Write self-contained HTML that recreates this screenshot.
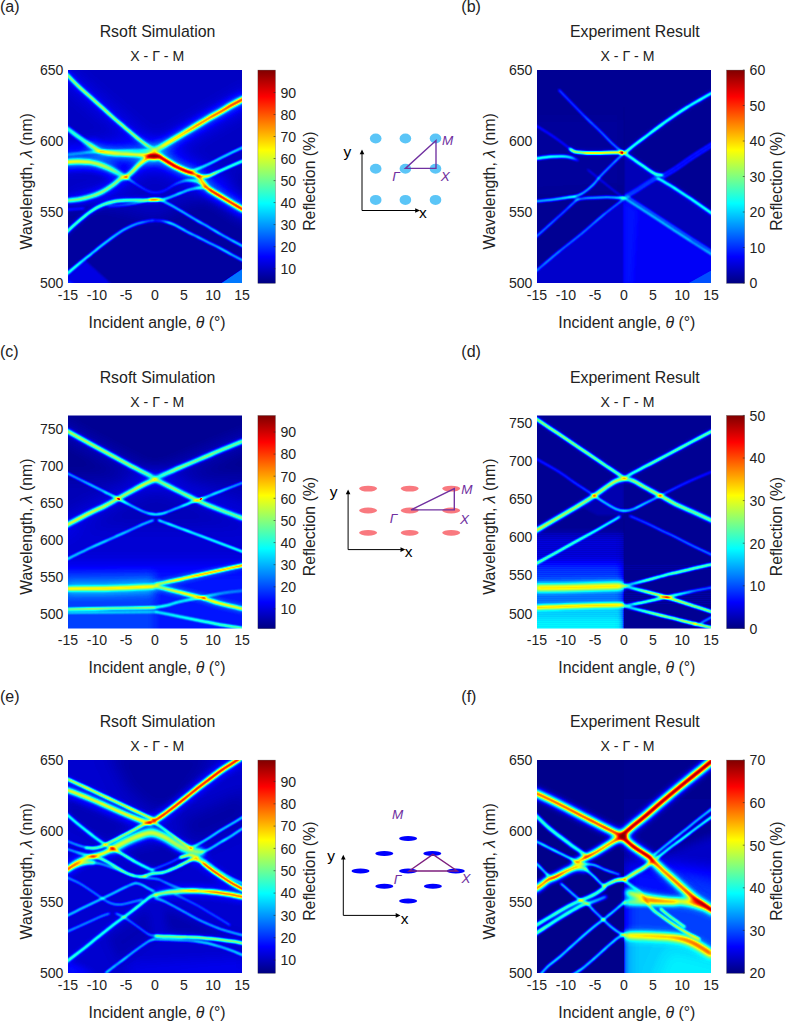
<!DOCTYPE html>
<html lang="en"><head><meta charset="utf-8"><title>Angle-resolved reflection spectra</title>
<style>html,body{margin:0;padding:0;background:#fff}svg{display:block}text{font-family:"Liberation Sans", sans-serif;fill:#222}.it{font-style:italic}.pu{fill:#7030a0;font-style:italic}</style>
</head><body>
<svg width="787" height="1022" viewBox="0 0 787 1022">
<defs>
<filter id="jet" x="0" y="0" width="100%" height="100%" filterUnits="objectBoundingBox" color-interpolation-filters="sRGB"><feComponentTransfer><feFuncR type="table" tableValues="0.000 0.000 0.000 0.000 0.000 0.000 0.000 0.000 0.000 0.000 0.000 0.000 0.000 0.125 0.250 0.375 0.500 0.625 0.750 0.875 1.000 1.000 1.000 1.000 1.000 1.000 1.000 1.000 1.000 0.875 0.750 0.625 0.500"/><feFuncG type="table" tableValues="0.000 0.000 0.000 0.000 0.000 0.125 0.250 0.375 0.500 0.625 0.750 0.875 1.000 1.000 1.000 1.000 1.000 1.000 1.000 1.000 1.000 0.875 0.750 0.625 0.500 0.375 0.250 0.125 0.000 0.000 0.000 0.000 0.000"/><feFuncB type="table" tableValues="0.500 0.625 0.750 0.875 1.000 1.000 1.000 1.000 1.000 1.000 1.000 1.000 1.000 0.875 0.750 0.625 0.500 0.375 0.250 0.125 0.000 0.000 0.000 0.000 0.000 0.000 0.000 0.000 0.000 0.000 0.000 0.000 0.000"/></feComponentTransfer></filter>
<filter id="b05" x="-20%" y="-20%" width="140%" height="140%" color-interpolation-filters="sRGB"><feGaussianBlur stdDeviation="0.5"/></filter>
<filter id="b07" x="-20%" y="-20%" width="140%" height="140%" color-interpolation-filters="sRGB"><feGaussianBlur stdDeviation="0.8"/></filter>
<filter id="b1" x="-20%" y="-20%" width="140%" height="140%" color-interpolation-filters="sRGB"><feGaussianBlur stdDeviation="1.15"/></filter>
<filter id="b15" x="-20%" y="-20%" width="140%" height="140%" color-interpolation-filters="sRGB"><feGaussianBlur stdDeviation="1.6"/></filter>
<filter id="b25" x="-20%" y="-20%" width="140%" height="140%" color-interpolation-filters="sRGB"><feGaussianBlur stdDeviation="2.5"/></filter>
<filter id="b4" x="-20%" y="-20%" width="140%" height="140%" color-interpolation-filters="sRGB"><feGaussianBlur stdDeviation="4.0"/></filter>
<filter id="b8" x="-20%" y="-20%" width="140%" height="140%" color-interpolation-filters="sRGB"><feGaussianBlur stdDeviation="8.0"/></filter>
<linearGradient id="cb" x1="0" y1="1" x2="0" y2="0"><stop offset="0.0000" stop-color="rgb(0,0,128)"/><stop offset="0.0312" stop-color="rgb(0,0,159)"/><stop offset="0.0625" stop-color="rgb(0,0,191)"/><stop offset="0.0938" stop-color="rgb(0,0,223)"/><stop offset="0.1250" stop-color="rgb(0,0,255)"/><stop offset="0.1562" stop-color="rgb(0,32,255)"/><stop offset="0.1875" stop-color="rgb(0,64,255)"/><stop offset="0.2188" stop-color="rgb(0,96,255)"/><stop offset="0.2500" stop-color="rgb(0,128,255)"/><stop offset="0.2812" stop-color="rgb(0,159,255)"/><stop offset="0.3125" stop-color="rgb(0,191,255)"/><stop offset="0.3438" stop-color="rgb(0,223,255)"/><stop offset="0.3750" stop-color="rgb(0,255,255)"/><stop offset="0.4062" stop-color="rgb(32,255,223)"/><stop offset="0.4375" stop-color="rgb(64,255,191)"/><stop offset="0.4688" stop-color="rgb(96,255,159)"/><stop offset="0.5000" stop-color="rgb(128,255,128)"/><stop offset="0.5312" stop-color="rgb(159,255,96)"/><stop offset="0.5625" stop-color="rgb(191,255,64)"/><stop offset="0.5938" stop-color="rgb(223,255,32)"/><stop offset="0.6250" stop-color="rgb(255,255,0)"/><stop offset="0.6562" stop-color="rgb(255,223,0)"/><stop offset="0.6875" stop-color="rgb(255,191,0)"/><stop offset="0.7188" stop-color="rgb(255,159,0)"/><stop offset="0.7500" stop-color="rgb(255,128,0)"/><stop offset="0.7812" stop-color="rgb(255,96,0)"/><stop offset="0.8125" stop-color="rgb(255,64,0)"/><stop offset="0.8438" stop-color="rgb(255,32,0)"/><stop offset="0.8750" stop-color="rgb(255,0,0)"/><stop offset="0.9062" stop-color="rgb(223,0,0)"/><stop offset="0.9375" stop-color="rgb(191,0,0)"/><stop offset="0.9688" stop-color="rgb(159,0,0)"/><stop offset="1.0000" stop-color="rgb(128,0,0)"/></linearGradient>
<marker id="ah" viewBox="0 0 10 10" refX="8" refY="5" markerWidth="5" markerHeight="5" orient="auto"><path d="M0,0.8 L10,5 L0,9.2z" fill="#000"/></marker>
</defs>
<rect width="787" height="1022" fill="#fff"/>
<svg x="68" y="70" width="174" height="213" viewBox="0 0 174 213" overflow="hidden">
<g filter="url(#jet)">
<rect x="-5" y="-5" width="184" height="223" fill="rgb(8,8,8)"/>
<g filter="url(#b8)" fill="none" stroke-linecap="round" stroke-linejoin="round">
<rect x="-20" y="-20" width="214" height="253" fill="none" stroke="none"/>
<path d="M-20,-20 L194,-20 L194,100 L87,150 L-20,120z" fill="#fff" fill-opacity="0.04" stroke="none"/>
<path d="M-10,88 C6.2,87.7 55.3,77.3 87,86 C118.7,94.7 164.5,131 180,140" stroke="#fff" stroke-opacity="0.10" stroke-width="20"/>
<path d="M87,82 L180,28" stroke="#fff" stroke-opacity="0.08" stroke-width="14"/>
<path d="M-10,0 L87,82" stroke="#fff" stroke-opacity="0.06" stroke-width="12"/>
<path d="M-10,131 C-1.7,129.5 24.3,129.5 40,122 C55.7,114.5 76.7,92 84,86" stroke="#fff" stroke-opacity="0.06" stroke-width="12"/>
</g>
<g filter="url(#b4)" fill="none" stroke-linecap="round" stroke-linejoin="round">
<rect x="-20" y="-20" width="214" height="253" fill="none" stroke="none"/>
<path d="M87.4,79.8 C88.7,79.1 92.2,77.4 95.4,75.5 C98.7,73.6 103.1,70.9 106.9,68.6 C110.7,66.3 114.5,64.1 118.3,61.8 C122.1,59.5 125.9,57.2 129.7,54.9 C133.5,52.6 137.4,50.2 141.2,48 C145,45.8 148.8,43.9 152.6,41.7 C156.4,39.5 160.2,37.1 164.1,34.9 C168,32.7 174,29.6 176,28.5" stroke="#fff" stroke-opacity="0.16" stroke-width="8"/>
<path d="M82,85.8 C83.5,85.9 88.7,85.7 90.9,86.3 C93.1,86.9 92.7,87.6 95.4,89.2 C98.1,90.8 103.1,94.1 106.9,96.1 C110.7,98.1 115.6,100.1 118.3,101.2 C121,102.3 121,101.8 122.9,102.6 C124.8,103.4 127.8,104.3 129.7,105.8 C131.6,107.3 132.8,109.5 134.3,111.5 C135.8,113.5 137.8,116.2 138.9,117.5 C140.1,118.8 138.9,118.1 141.2,119.6 C143.5,121.1 148.8,124.1 152.6,126.4 C156.4,128.7 160.2,131 164.1,133.3 C168,135.6 174,139 176,140.2" stroke="#fff" stroke-opacity="0.18" stroke-width="8"/>
<path d="M22.9,75.5 C24,76.2 27.8,79 29.7,80 C31.6,81 31.6,81.2 34.3,81.8 C37,82.4 41.9,83.1 45.7,83.5 C49.5,83.9 53.4,83.8 57.2,84 C61,84.2 65.2,84.4 68.6,84.6 C72,84.8 75.1,85 77.8,85.2 C80.5,85.4 83.8,85.7 85,85.8" stroke="#fff" stroke-opacity="0.16" stroke-width="9"/>
<path d="M-2,92.2 C-1.6,92.2 -1.6,92.1 0.6,92 C2.8,91.9 7.7,91.4 11.4,91.5 C15.1,91.6 19.1,91.7 22.9,92.4 C26.7,93.1 30.5,94.1 34.3,95.5 C38.1,96.9 43.8,99.8 45.7,100.6" stroke="#fff" stroke-opacity="0.17" stroke-width="10"/>
<path d="M-2,130.5 C-1.6,130.5 -1.6,130.6 0.6,130.4 C2.8,130.2 7.7,130 11.4,129.3 C15.1,128.6 19.1,127.6 22.9,126.4 C26.7,125.2 30.5,123.9 34.3,121.9 C38.1,119.9 42.7,116.6 45.7,114.4 C48.8,112.2 50.5,109.9 52.6,108.7 C54.7,107.5 56.4,108.2 58.3,107 C60.2,105.8 61.9,103.8 64,101.8 C66.1,99.8 68.6,97 70.9,94.9 C73.2,92.8 75.7,90.7 77.8,89.2 C79.9,87.7 82.5,86.4 83.5,85.8" stroke="#fff" stroke-opacity="0.10" stroke-width="6"/>
</g>
<g filter="url(#b25)" fill="none" stroke-linecap="round" stroke-linejoin="round">
<rect x="-20" y="-20" width="214" height="253" fill="none" stroke="none"/>
<path d="M-2,3.4 C-1.6,3.9 -1.6,4 0.6,6.3 C2.8,8.6 7.7,13.7 11.4,17.2 C15.1,20.7 19.1,24 22.9,27.4 C26.7,30.8 30.5,34.3 34.3,37.7 C38.1,41.1 41.9,44.6 45.7,48 C49.5,51.4 53.4,54.5 57.2,57.8 C61,61 64.8,64.5 68.6,67.5 C72.4,70.5 76.9,74 80,76 C83.1,78 85.8,79 87,79.6" stroke="#fff" stroke-opacity="0.12" stroke-width="5"/>
<path d="M-2,163 C-1.6,162.5 -1.6,162.3 0.6,160.2 C2.8,158.1 7.7,153.7 11.4,150.5 C15.1,147.3 19.1,143.9 22.9,141.3 C26.7,138.7 30.5,136.6 34.3,135 C38.1,133.4 41.9,132.4 45.7,131.6 C49.5,130.8 53.4,130.6 57.2,130.4 C61,130.2 65,130.2 68.6,130.2 C72.2,130.2 75.8,130.3 78.9,130.2 C82,130.1 84.8,129.8 87,129.7 C89.2,129.6 91.2,129.7 92,129.7" stroke="#fff" stroke-opacity="0.10" stroke-width="4"/>
</g>
<g filter="url(#b15)" fill="none" stroke-linecap="round" stroke-linejoin="round">
<rect x="-20" y="-20" width="214" height="253" fill="none" stroke="none"/>
<linearGradient id="g1" gradientUnits="userSpaceOnUse" x1="87.4" y1="0" x2="176" y2="0"><stop offset="0.000" stop-color="#fff" stop-opacity="0.31"/><stop offset="0.090" stop-color="#fff" stop-opacity="0.58"/><stop offset="0.220" stop-color="#fff" stop-opacity="0.65"/><stop offset="0.349" stop-color="#fff" stop-opacity="0.71"/><stop offset="0.477" stop-color="#fff" stop-opacity="0.76"/><stop offset="0.607" stop-color="#fff" stop-opacity="0.79"/><stop offset="0.736" stop-color="#fff" stop-opacity="0.84"/><stop offset="0.866" stop-color="#fff" stop-opacity="0.87"/><stop offset="1.000" stop-color="#fff" stop-opacity="0.89"/></linearGradient>
<path d="M87.4,79.8 C88.7,79.1 92.2,77.4 95.4,75.5 C98.7,73.6 103.1,70.9 106.9,68.6 C110.7,66.3 114.5,64.1 118.3,61.8 C122.1,59.5 125.9,57.2 129.7,54.9 C133.5,52.6 137.4,50.2 141.2,48 C145,45.8 148.8,43.9 152.6,41.7 C156.4,39.5 160.2,37.1 164.1,34.9 C168,32.7 174,29.6 176,28.5" stroke="url(#g1)" stroke-width="4.2"/>
<linearGradient id="g2" gradientUnits="userSpaceOnUse" x1="-2" y1="0" x2="85" y2="0"><stop offset="0.000" stop-color="#fff" stop-opacity="0.50"/><stop offset="0.030" stop-color="#fff" stop-opacity="0.50"/><stop offset="0.154" stop-color="#fff" stop-opacity="0.52"/><stop offset="0.286" stop-color="#fff" stop-opacity="0.54"/><stop offset="0.364" stop-color="#fff" stop-opacity="0.57"/><stop offset="0.417" stop-color="#fff" stop-opacity="0.59"/><stop offset="0.548" stop-color="#fff" stop-opacity="0.61"/><stop offset="0.680" stop-color="#fff" stop-opacity="0.61"/><stop offset="0.811" stop-color="#fff" stop-opacity="0.61"/><stop offset="0.917" stop-color="#fff" stop-opacity="0.64"/><stop offset="1.000" stop-color="#fff" stop-opacity="0.71"/></linearGradient>
<path d="M-2,57.8 C-1.6,58.1 -1.6,57.9 0.6,59.5 C2.8,61.1 7.7,64.8 11.4,67.5 C15.1,70.2 19.8,73.4 22.9,75.5 C25.9,77.6 27.8,79 29.7,80 C31.6,81 31.6,81.2 34.3,81.8 C37,82.4 41.9,83.1 45.7,83.5 C49.5,83.9 53.4,83.8 57.2,84 C61,84.2 65.2,84.4 68.6,84.6 C72,84.8 75.1,85 77.8,85.2 C80.5,85.4 83.8,85.7 85,85.8" stroke="url(#g2)" stroke-width="3.4"/>
<linearGradient id="g3" gradientUnits="userSpaceOnUse" x1="-2" y1="0" x2="58.3" y2="0"><stop offset="0.000" stop-color="#fff" stop-opacity="0.60"/><stop offset="0.043" stop-color="#fff" stop-opacity="0.60"/><stop offset="0.222" stop-color="#fff" stop-opacity="0.59"/><stop offset="0.413" stop-color="#fff" stop-opacity="0.55"/><stop offset="0.602" stop-color="#fff" stop-opacity="0.51"/><stop offset="0.791" stop-color="#fff" stop-opacity="0.45"/><stop offset="0.925" stop-color="#fff" stop-opacity="0.38"/><stop offset="1.000" stop-color="#fff" stop-opacity="0.36"/></linearGradient>
<path d="M-2,92.2 C-1.6,92.2 -1.6,92.1 0.6,92 C2.8,91.9 7.7,91.4 11.4,91.5 C15.1,91.6 19.1,91.7 22.9,92.4 C26.7,93.1 30.5,94.1 34.3,95.5 C38.1,96.9 42.5,99 45.7,100.6 C49,102.2 51.7,104.1 53.8,105.2 C55.9,106.3 57.5,107 58.3,107.3" stroke="url(#g3)" stroke-width="4"/>
<linearGradient id="g4" gradientUnits="userSpaceOnUse" x1="-2" y1="0" x2="58.3" y2="0"><stop offset="0.000" stop-color="#fff" stop-opacity="0.59"/><stop offset="0.043" stop-color="#fff" stop-opacity="0.60"/><stop offset="0.222" stop-color="#fff" stop-opacity="0.61"/><stop offset="0.413" stop-color="#fff" stop-opacity="0.62"/><stop offset="0.602" stop-color="#fff" stop-opacity="0.62"/><stop offset="0.791" stop-color="#fff" stop-opacity="0.63"/><stop offset="0.905" stop-color="#fff" stop-opacity="0.64"/><stop offset="1.000" stop-color="#fff" stop-opacity="0.64"/></linearGradient>
<path d="M-2,130.5 C-1.6,130.5 -1.6,130.6 0.6,130.4 C2.8,130.2 7.7,130 11.4,129.3 C15.1,128.6 19.1,127.6 22.9,126.4 C26.7,125.2 30.5,123.9 34.3,121.9 C38.1,119.9 42.7,116.6 45.7,114.4 C48.8,112.2 50.5,109.9 52.6,108.7 C54.7,107.5 57.3,107.3 58.3,107" stroke="url(#g4)" stroke-width="3"/>
<linearGradient id="g5" gradientUnits="userSpaceOnUse" x1="58.3" y1="0" x2="83.5" y2="0"><stop offset="0.000" stop-color="#fff" stop-opacity="0.62"/><stop offset="0.226" stop-color="#fff" stop-opacity="0.65"/><stop offset="0.500" stop-color="#fff" stop-opacity="0.69"/><stop offset="0.774" stop-color="#fff" stop-opacity="0.73"/><stop offset="1.000" stop-color="#fff" stop-opacity="0.77"/></linearGradient>
<path d="M58.3,107 C59.2,106.1 61.9,103.8 64,101.8 C66.1,99.8 68.6,97 70.9,94.9 C73.2,92.8 75.7,90.7 77.8,89.2 C79.9,87.7 82.5,86.4 83.5,85.8" stroke="url(#g5)" stroke-width="3.2"/>
<path d="M82,85.8 C83.5,85.9 88.7,85.7 90.9,86.3 C93.1,86.9 92.7,87.6 95.4,89.2 C98.1,90.8 103.1,94.1 106.9,96.1 C110.7,98.1 115.6,100.1 118.3,101.2 C121,102.3 122.1,102.4 122.9,102.6" stroke="#fff" stroke-opacity="1.00" stroke-width="4.4"/>
<ellipse cx="86" cy="86.2" rx="7" ry="3.4" fill="#fff" fill-opacity="0.95" stroke="none"/>
<linearGradient id="g6" gradientUnits="userSpaceOnUse" x1="122.9" y1="0" x2="176" y2="0"><stop offset="0.000" stop-color="#fff" stop-opacity="1.00"/><stop offset="0.128" stop-color="#fff" stop-opacity="0.77"/><stop offset="0.215" stop-color="#fff" stop-opacity="0.71"/><stop offset="0.301" stop-color="#fff" stop-opacity="0.77"/><stop offset="0.345" stop-color="#fff" stop-opacity="1.00"/><stop offset="0.559" stop-color="#fff" stop-opacity="1.00"/><stop offset="0.776" stop-color="#fff" stop-opacity="1.00"/><stop offset="1.000" stop-color="#fff" stop-opacity="1.00"/></linearGradient>
<path d="M122.9,102.6 C124,103.1 127.8,104.3 129.7,105.8 C131.6,107.3 132.8,109.5 134.3,111.5 C135.8,113.5 137.8,116.2 138.9,117.5 C140.1,118.8 138.9,118.1 141.2,119.6 C143.5,121.1 148.8,124.1 152.6,126.4 C156.4,128.7 160.2,131 164.1,133.3 C168,135.6 174,139 176,140.2" stroke="url(#g6)" stroke-width="3.6"/>
</g>
<g filter="url(#b1)" fill="none" stroke-linecap="round" stroke-linejoin="round">
<rect x="-20" y="-20" width="214" height="253" fill="none" stroke="none"/>
<path d="M-3,201 L17,190 L46,216 L-3,216z" fill="#fff" fill-opacity="0.07" stroke="none"/>
<path d="M-3,208 L10,216 L-3,216z" fill="#fff" fill-opacity="0.08" stroke="none"/>
<linearGradient id="g7" gradientUnits="userSpaceOnUse" x1="-2" y1="0" x2="87" y2="0"><stop offset="0.000" stop-color="#fff" stop-opacity="0.62"/><stop offset="0.029" stop-color="#fff" stop-opacity="0.62"/><stop offset="0.151" stop-color="#fff" stop-opacity="0.62"/><stop offset="0.280" stop-color="#fff" stop-opacity="0.62"/><stop offset="0.408" stop-color="#fff" stop-opacity="0.62"/><stop offset="0.536" stop-color="#fff" stop-opacity="0.62"/><stop offset="0.665" stop-color="#fff" stop-opacity="0.62"/><stop offset="0.793" stop-color="#fff" stop-opacity="0.59"/><stop offset="0.921" stop-color="#fff" stop-opacity="0.49"/><stop offset="1.000" stop-color="#fff" stop-opacity="0.18"/></linearGradient>
<path d="M-2,3.4 C-1.6,3.9 -1.6,4 0.6,6.3 C2.8,8.6 7.7,13.7 11.4,17.2 C15.1,20.7 19.1,24 22.9,27.4 C26.7,30.8 30.5,34.3 34.3,37.7 C38.1,41.1 41.9,44.6 45.7,48 C49.5,51.4 53.4,54.5 57.2,57.8 C61,61 64.8,64.5 68.6,67.5 C72.4,70.5 76.9,74 80,76 C83.1,78 85.8,79 87,79.6" stroke="url(#g7)" stroke-width="2.3"/>
<linearGradient id="g8" gradientUnits="userSpaceOnUse" x1="129.7" y1="0" x2="176" y2="0"><stop offset="0.000" stop-color="#fff" stop-opacity="0.89"/><stop offset="0.125" stop-color="#fff" stop-opacity="0.89"/><stop offset="0.248" stop-color="#fff" stop-opacity="0.82"/><stop offset="0.495" stop-color="#fff" stop-opacity="0.61"/><stop offset="0.743" stop-color="#fff" stop-opacity="0.57"/><stop offset="1.000" stop-color="#fff" stop-opacity="0.57"/></linearGradient>
<path d="M129.7,105.8 C130.7,105.9 133.6,106.6 135.5,106.6 C137.4,106.6 138.3,106.8 141.2,105.8 C144,104.8 148.8,102.3 152.6,100.6 C156.4,98.9 160.2,97.2 164.1,95.5 C168,93.8 174,91.3 176,90.5" stroke="url(#g8)" stroke-width="2"/>
<linearGradient id="g9" gradientUnits="userSpaceOnUse" x1="-2" y1="0" x2="92" y2="0"><stop offset="0.000" stop-color="#fff" stop-opacity="0.61"/><stop offset="0.028" stop-color="#fff" stop-opacity="0.60"/><stop offset="0.143" stop-color="#fff" stop-opacity="0.59"/><stop offset="0.265" stop-color="#fff" stop-opacity="0.59"/><stop offset="0.386" stop-color="#fff" stop-opacity="0.58"/><stop offset="0.507" stop-color="#fff" stop-opacity="0.57"/><stop offset="0.630" stop-color="#fff" stop-opacity="0.56"/><stop offset="0.751" stop-color="#fff" stop-opacity="0.56"/><stop offset="0.861" stop-color="#fff" stop-opacity="0.55"/><stop offset="0.947" stop-color="#fff" stop-opacity="0.54"/><stop offset="1.000" stop-color="#fff" stop-opacity="0.53"/></linearGradient>
<path d="M-2,163 C-1.6,162.5 -1.6,162.3 0.6,160.2 C2.8,158.1 7.7,153.7 11.4,150.5 C15.1,147.3 19.1,143.9 22.9,141.3 C26.7,138.7 30.5,136.6 34.3,135 C38.1,133.4 41.9,132.4 45.7,131.6 C49.5,130.8 53.4,130.6 57.2,130.4 C61,130.2 65,130.2 68.6,130.2 C72.2,130.2 75.8,130.3 78.9,130.2 C82,130.1 84.8,129.8 87,129.7 C89.2,129.6 91.2,129.7 92,129.7" stroke="url(#g9)" stroke-width="2.2"/>
</g>
<g filter="url(#b07)" fill="none" stroke-linecap="round" stroke-linejoin="round">
<rect x="-20" y="-20" width="214" height="253" fill="none" stroke="none"/>
<path d="M124,101.2 C125,100.8 126.8,100.1 129.7,98.9 C132.6,97.7 137.4,95.6 141.2,93.8 C145,92 148.8,90 152.6,88.1 C156.4,86.2 160.2,84.2 164.1,82.3 C168,80.4 174,77.7 176,76.8" stroke="#fff" stroke-opacity="0.60" stroke-width="1.4"/>
<path d="M93.1,129.9 C94.4,129.5 98,128.8 101.2,127.6 C104.5,126.4 109.2,124.3 112.6,123 C116,121.7 118.9,120.4 121.7,119.6 C124.5,118.8 127.1,118.2 129.7,117.9 C132.2,117.6 135.8,117.6 137,117.5" stroke="#fff" stroke-opacity="0.57" stroke-width="1.5"/>
<path d="M92,129.5 C94.5,130.8 102.5,134.9 106.9,137.3 C111.3,139.8 114.5,141.9 118.3,144.2 C122.1,146.5 125.9,148.8 129.7,151 C133.5,153.2 137.4,155.1 141.2,157.3 C145,159.5 148.8,162 152.6,164.2 C156.4,166.4 160.2,168.4 164.1,170.5 C168,172.6 174,175.8 176,176.8" stroke="#fff" stroke-opacity="0.54" stroke-width="1.5"/>
<linearGradient id="g10" gradientUnits="userSpaceOnUse" x1="-2" y1="0" x2="84.6" y2="0"><stop offset="0.000" stop-color="#fff" stop-opacity="0.57"/><stop offset="0.030" stop-color="#fff" stop-opacity="0.57"/><stop offset="0.155" stop-color="#fff" stop-opacity="0.57"/><stop offset="0.288" stop-color="#fff" stop-opacity="0.55"/><stop offset="0.419" stop-color="#fff" stop-opacity="0.52"/><stop offset="0.551" stop-color="#fff" stop-opacity="0.50"/><stop offset="0.684" stop-color="#fff" stop-opacity="0.48"/><stop offset="0.815" stop-color="#fff" stop-opacity="0.41"/><stop offset="0.921" stop-color="#fff" stop-opacity="0.32"/><stop offset="1.000" stop-color="#fff" stop-opacity="0.23"/></linearGradient>
<path d="M-2,204.6 C-1.6,204.2 -1.6,204.4 0.6,202.5 C2.8,200.6 7.7,196.4 11.4,193.3 C15.1,190.2 19.1,187.2 22.9,184.2 C26.7,181.1 30.5,177.9 34.3,175 C38.1,172.1 41.9,169.2 45.7,166.5 C49.5,163.8 53.4,161.1 57.2,159 C61,156.9 65.2,155.1 68.6,153.9 C72,152.7 75.1,152.2 77.8,151.6 C80.5,151 83.5,150.7 84.6,150.5" stroke="url(#g10)" stroke-width="1.8"/>
<linearGradient id="g11" gradientUnits="userSpaceOnUse" x1="84.6" y1="0" x2="176" y2="0"><stop offset="0.000" stop-color="#fff" stop-opacity="0.19"/><stop offset="0.093" stop-color="#fff" stop-opacity="0.26"/><stop offset="0.182" stop-color="#fff" stop-opacity="0.64"/><stop offset="0.244" stop-color="#fff" stop-opacity="0.54"/><stop offset="0.369" stop-color="#fff" stop-opacity="0.54"/><stop offset="0.493" stop-color="#fff" stop-opacity="0.54"/><stop offset="0.619" stop-color="#fff" stop-opacity="0.54"/><stop offset="0.744" stop-color="#fff" stop-opacity="0.54"/><stop offset="0.870" stop-color="#fff" stop-opacity="0.54"/><stop offset="1.000" stop-color="#fff" stop-opacity="0.54"/></linearGradient>
<path d="M84.6,150.5 C86,150.5 90.3,150.3 93.1,150.7 C95.9,151.1 98.9,152 101.2,152.7 C103.5,153.4 104.1,153.6 106.9,155 C109.8,156.4 114.5,159.3 118.3,161.3 C122.1,163.3 125.9,165.1 129.7,167 C133.5,168.9 137.4,170.9 141.2,172.8 C145,174.7 148.8,176.5 152.6,178.5 C156.4,180.5 160.2,182.7 164.1,184.8 C168,186.9 174,190 176,191" stroke="url(#g11)" stroke-width="1.5"/>
<linearGradient id="g12" gradientUnits="userSpaceOnUse" x1="-2" y1="0" x2="87" y2="0"><stop offset="0.000" stop-color="#fff" stop-opacity="0.36"/><stop offset="0.035" stop-color="#fff" stop-opacity="0.36"/><stop offset="0.151" stop-color="#fff" stop-opacity="0.39"/><stop offset="0.280" stop-color="#fff" stop-opacity="0.50"/><stop offset="0.408" stop-color="#fff" stop-opacity="0.75"/><stop offset="0.536" stop-color="#fff" stop-opacity="0.57"/><stop offset="0.665" stop-color="#fff" stop-opacity="0.50"/><stop offset="0.793" stop-color="#fff" stop-opacity="0.50"/><stop offset="0.921" stop-color="#fff" stop-opacity="0.57"/><stop offset="1.000" stop-color="#fff" stop-opacity="0.75"/></linearGradient>
<path d="M-2,84.7 C-1.5,84.7 -1.1,84.6 1.1,84.4 C3.3,84.2 7.8,83.7 11.4,83.3 C15,82.9 19.1,82.4 22.9,82.1 C26.7,81.8 30.5,81.6 34.3,81.4 C38.1,81.2 41.9,81.3 45.7,81.2 C49.5,81.1 53.4,80.8 57.2,80.6 C61,80.4 64.8,80.3 68.6,80.3 C72.4,80.3 76.9,80.4 80,80.6 C83.1,80.8 85.8,81.3 87,81.4" stroke="url(#g12)" stroke-width="1"/>
<linearGradient id="g13" gradientUnits="userSpaceOnUse" x1="58.3" y1="0" x2="138.9" y2="0"><stop offset="0.000" stop-color="#fff" stop-opacity="0.72"/><stop offset="0.128" stop-color="#fff" stop-opacity="0.39"/><stop offset="0.269" stop-color="#fff" stop-opacity="0.31"/><stop offset="0.373" stop-color="#fff" stop-opacity="0.27"/><stop offset="0.480" stop-color="#fff" stop-opacity="0.27"/><stop offset="0.603" stop-color="#fff" stop-opacity="0.36"/><stop offset="0.716" stop-color="#fff" stop-opacity="0.50"/><stop offset="0.787" stop-color="#fff" stop-opacity="0.75"/><stop offset="0.886" stop-color="#fff" stop-opacity="0.93"/><stop offset="0.958" stop-color="#fff" stop-opacity="1.00"/><stop offset="1.000" stop-color="#fff" stop-opacity="1.00"/></linearGradient>
<path d="M58.3,107.3 C60,108.5 65,112.1 68.6,114.4 C72.2,116.7 76.7,119.6 80,121 C83.3,122.4 85.6,122.7 88.4,122.6 C91.2,122.5 93.9,121.7 97,120.3 C100.1,118.9 103.7,116 106.9,114.4 C110.1,112.9 113.5,111.7 116,111 C118.5,110.3 119.4,110.3 121.7,110.4 C124,110.5 127.4,110.7 129.7,111.6 C132,112.5 134,114.5 135.5,115.6 C137,116.6 138.3,117.5 138.9,117.9" stroke="url(#g13)" stroke-width="1"/>
<linearGradient id="g14" gradientUnits="userSpaceOnUse" x1="40" y1="0" x2="78.9" y2="0"><stop offset="0.000" stop-color="#fff" stop-opacity="0.27"/><stop offset="0.296" stop-color="#fff" stop-opacity="0.36"/><stop offset="0.617" stop-color="#fff" stop-opacity="0.46"/><stop offset="0.882" stop-color="#fff" stop-opacity="0.55"/><stop offset="1.000" stop-color="#fff" stop-opacity="0.65"/></linearGradient>
<path d="M40,136.2 C41.9,136.1 47.5,136 51.5,135.6 C55.5,135.2 60.2,134.6 64,133.9 C67.8,133.2 71.8,132.2 74.3,131.6 C76.8,131 78.1,130.6 78.9,130.4" stroke="url(#g14)" stroke-width="1"/>
<path d="M-2,139.8 L16,138.5" stroke="#fff" stroke-opacity="0.27" stroke-width="1"/>
<ellipse cx="58.3" cy="107.2" rx="1.2" ry="0.9" fill="#fff" fill-opacity="0.55" stroke="none"/>
<ellipse cx="86" cy="129.7" rx="5.5" ry="1" fill="#fff" fill-opacity="0.90" stroke="none"/>
</g>
<g filter="url(#b05)" fill="none" stroke-linecap="round" stroke-linejoin="round">
<rect x="-20" y="-20" width="214" height="253" fill="none" stroke="none"/>
<path d="M177,197 L152,214 L177,214z" fill="#fff" fill-opacity="0.22" stroke="none"/>
</g>
</g></svg>
<rect x="257.9" y="70.1" width="17.5" height="213.2" fill="url(#cb)" stroke="#262626" stroke-opacity="0.55" stroke-width="0.5"/>
<path d="M275.4,268.7 h-1.8" stroke="#262626" stroke-width="0.6"/>
<text x="280.4" y="274" font-size="14.1">10</text>
<path d="M275.4,246.7 h-1.8" stroke="#262626" stroke-width="0.6"/>
<text x="280.4" y="252" font-size="14.1">20</text>
<path d="M275.4,224.6 h-1.8" stroke="#262626" stroke-width="0.6"/>
<text x="280.4" y="229.9" font-size="14.1">30</text>
<path d="M275.4,202.6 h-1.8" stroke="#262626" stroke-width="0.6"/>
<text x="280.4" y="207.9" font-size="14.1">40</text>
<path d="M275.4,180.6 h-1.8" stroke="#262626" stroke-width="0.6"/>
<text x="280.4" y="185.9" font-size="14.1">50</text>
<path d="M275.4,158.5 h-1.8" stroke="#262626" stroke-width="0.6"/>
<text x="280.4" y="163.8" font-size="14.1">60</text>
<path d="M275.4,136.5 h-1.8" stroke="#262626" stroke-width="0.6"/>
<text x="280.4" y="141.8" font-size="14.1">70</text>
<path d="M275.4,114.5 h-1.8" stroke="#262626" stroke-width="0.6"/>
<text x="280.4" y="119.8" font-size="14.1">80</text>
<path d="M275.4,92.5 h-1.8" stroke="#262626" stroke-width="0.6"/>
<text x="280.4" y="97.8" font-size="14.1">90</text>
<text x="314.7" y="181.2" font-size="15.8" text-anchor="middle" transform="rotate(-90 314.7 181.2)">Reflection (%)</text>
<text x="63.4" y="288.3" font-size="14.1" text-anchor="end">500</text>
<text x="63.4" y="217.3" font-size="14.1" text-anchor="end">550</text>
<text x="63.4" y="146.3" font-size="14.1" text-anchor="end">600</text>
<text x="63.4" y="75.3" font-size="14.1" text-anchor="end">650</text>
<text x="68" y="299.7" font-size="14.1" text-anchor="middle">-15</text>
<text x="97" y="299.7" font-size="14.1" text-anchor="middle">-10</text>
<text x="126" y="299.7" font-size="14.1" text-anchor="middle">-5</text>
<text x="155" y="299.7" font-size="14.1" text-anchor="middle">0</text>
<text x="184" y="299.7" font-size="14.1" text-anchor="middle">5</text>
<text x="213" y="299.7" font-size="14.1" text-anchor="middle">10</text>
<text x="242" y="299.7" font-size="14.1" text-anchor="middle">15</text>
<text x="157.1" y="327.7" font-size="15.8" text-anchor="middle">Incident angle, <tspan class="it">&#952;</tspan> (&#176;)</text>
<text x="32" y="181.3" font-size="15.8" text-anchor="middle" transform="rotate(-90 32 181.3)">Wavelength, <tspan class="it">&#955;</tspan> (nm)</text>
<text x="157.5" y="37.3" font-size="15.9" text-anchor="middle">Rsoft Simulation</text>
<text x="157.2" y="61.3" font-size="14.1" text-anchor="middle">X - &#915; - M</text>
<text x="0" y="11.5" font-size="16" fill="#000">(a)</text>
<svg x="537" y="70" width="174" height="213" viewBox="0 0 174 213" overflow="hidden">
<g filter="url(#jet)">
<rect x="-5" y="-5" width="184" height="223" fill="rgb(5,5,5)"/>
<g filter="url(#b8)" fill="none" stroke-linecap="round" stroke-linejoin="round">
<rect x="-20" y="-20" width="214" height="253" fill="none" stroke="none"/>
<path d="M-10,45 L87,45 L87,120 L-10,125z" fill="#fff" fill-opacity="0.01" stroke="none"/>
</g>
<g filter="url(#b25)" fill="none" stroke-linecap="round" stroke-linejoin="round">
<rect x="-20" y="-20" width="214" height="253" fill="none" stroke="none"/>
<path d="M87,130 L101,140 L96,215 L87,215z" fill="#fff" fill-opacity="0.03" stroke="none"/>
<path d="M88.5,82.3 C90.3,80.8 95.5,76.5 99.4,73.5 C103.3,70.5 107.9,67.2 112.1,64 C116.3,60.8 120.6,57.6 124.8,54.5 C129,51.4 133.3,48.5 137.5,45.6 C141.7,42.7 146,39.9 150.2,37.3 C154.4,34.6 158.6,32.2 162.9,29.7 C167.2,27.2 173.8,23.6 176,22.4" stroke="#fff" stroke-opacity="0.07" stroke-width="4"/>
<path d="M88.5,83.8 C90.3,85 95.5,88.6 99.4,91.3 C103.3,94 108.9,98.1 112.1,100.2 C115.3,102.3 116.4,103.2 118.5,104 C120.6,104.8 124.4,104.5 124.8,105.2 C125.2,105.9 121,107.4 121,108.3 C121,109.2 122,108.8 124.8,110.4 C127.5,112 133.3,115.3 137.5,118 C141.7,120.7 147,124.2 150.2,126.3 C153.4,128.4 152.3,127.7 156.6,130.7 C160.9,133.7 172.8,141.9 176,144.2" stroke="#fff" stroke-opacity="0.07" stroke-width="4"/>
<path d="M33,79 C33.9,79.5 35.1,81.2 38.1,81.9 C41.1,82.6 46.6,82.8 50.8,83 C55,83.2 59.3,83.1 63.5,83 C67.7,82.9 72.6,82.7 76.2,82.6 C79.8,82.5 83.5,82.4 85,82.4" stroke="#fff" stroke-opacity="0.08" stroke-width="4"/>
</g>
<g filter="url(#b1)" fill="none" stroke-linecap="round" stroke-linejoin="round">
<rect x="-20" y="-20" width="214" height="253" fill="none" stroke="none"/>
<linearGradient id="g15" gradientUnits="userSpaceOnUse" x1="33" y1="0" x2="85" y2="0"><stop offset="0.000" stop-color="#fff" stop-opacity="0.58"/><stop offset="0.098" stop-color="#fff" stop-opacity="0.89"/><stop offset="0.342" stop-color="#fff" stop-opacity="1.00"/><stop offset="0.587" stop-color="#fff" stop-opacity="1.00"/><stop offset="0.831" stop-color="#fff" stop-opacity="1.00"/><stop offset="1.000" stop-color="#fff" stop-opacity="1.00"/></linearGradient>
<path d="M33,79 C33.9,79.5 35.1,81.2 38.1,81.9 C41.1,82.6 46.6,82.8 50.8,83 C55,83.2 59.3,83.1 63.5,83 C67.7,82.9 72.6,82.7 76.2,82.6 C79.8,82.5 83.5,82.4 85,82.4" stroke="url(#g15)" stroke-width="2"/>
</g>
<g filter="url(#b07)" fill="none" stroke-linecap="round" stroke-linejoin="round">
<rect x="-20" y="-20" width="214" height="253" fill="none" stroke="none"/>
<path d="M87,128 L176,185 L176,215 L87,215z" fill="#fff" fill-opacity="0.10" stroke="none"/>
<path d="M87,130 L-2,203 L-2,215 L87,215z" fill="#fff" fill-opacity="0.06" stroke="none"/>
<path d="M87,84 L176,145 L176,185 L87,128z" fill="#fff" fill-opacity="0.04" stroke="none"/>
<linearGradient id="g16" gradientUnits="userSpaceOnUse" x1="88.5" y1="0" x2="176" y2="0"><stop offset="0.000" stop-color="#fff" stop-opacity="0.63"/><stop offset="0.125" stop-color="#fff" stop-opacity="0.58"/><stop offset="0.270" stop-color="#fff" stop-opacity="0.57"/><stop offset="0.415" stop-color="#fff" stop-opacity="0.55"/><stop offset="0.560" stop-color="#fff" stop-opacity="0.55"/><stop offset="0.705" stop-color="#fff" stop-opacity="0.55"/><stop offset="0.850" stop-color="#fff" stop-opacity="0.55"/><stop offset="1.000" stop-color="#fff" stop-opacity="0.55"/></linearGradient>
<path d="M88.5,82.3 C90.3,80.8 95.5,76.5 99.4,73.5 C103.3,70.5 107.9,67.2 112.1,64 C116.3,60.8 120.6,57.6 124.8,54.5 C129,51.4 133.3,48.5 137.5,45.6 C141.7,42.7 146,39.9 150.2,37.3 C154.4,34.6 158.6,32.2 162.9,29.7 C167.2,27.2 173.8,23.6 176,22.4" stroke="url(#g16)" stroke-width="2.2"/>
<linearGradient id="g17" gradientUnits="userSpaceOnUse" x1="88.5" y1="0" x2="124.8" y2="0"><stop offset="0.000" stop-color="#fff" stop-opacity="0.56"/><stop offset="0.300" stop-color="#fff" stop-opacity="0.57"/><stop offset="0.650" stop-color="#fff" stop-opacity="0.59"/><stop offset="0.826" stop-color="#fff" stop-opacity="0.60"/><stop offset="1.000" stop-color="#fff" stop-opacity="0.62"/></linearGradient>
<path d="M88.5,83.8 C90.3,85 95.5,88.6 99.4,91.3 C103.3,94 108.9,98.1 112.1,100.2 C115.3,102.3 116.4,103.2 118.5,104 C120.6,104.8 123.8,105 124.8,105.2" stroke="url(#g17)" stroke-width="2.1"/>
<linearGradient id="g18" gradientUnits="userSpaceOnUse" x1="121" y1="0" x2="176" y2="0"><stop offset="0.000" stop-color="#fff" stop-opacity="0.49"/><stop offset="0.069" stop-color="#fff" stop-opacity="0.50"/><stop offset="0.300" stop-color="#fff" stop-opacity="0.51"/><stop offset="0.531" stop-color="#fff" stop-opacity="0.52"/><stop offset="0.647" stop-color="#fff" stop-opacity="0.53"/><stop offset="1.000" stop-color="#fff" stop-opacity="0.54"/></linearGradient>
<path d="M121,108.3 C121.6,108.7 122,108.8 124.8,110.4 C127.5,112 133.3,115.3 137.5,118 C141.7,120.7 147,124.2 150.2,126.3 C153.4,128.4 152.3,127.7 156.6,130.7 C160.9,133.7 172.8,141.9 176,144.2" stroke="url(#g18)" stroke-width="2.1"/>
<path d="M124.8,105.2 C126.9,104 133.3,100.4 137.5,97.7 C141.7,95 146,91.7 150.2,88.8 C154.4,85.9 158.6,83.2 162.9,80.5 C167.2,77.8 173.8,73.8 176,72.4" stroke="#fff" stroke-opacity="0.43" stroke-width="1"/>
<path d="M126.2,107.8 C128.3,106.5 134.7,103 138.9,100.3 C143.1,97.6 147.4,94.3 151.6,91.4 C155.8,88.5 160,85.8 164.3,83.1 C168.6,80.4 175.2,76.3 177.4,75" stroke="#fff" stroke-opacity="0.43" stroke-width="1"/>
<path d="M88,128.3 C89.9,127.2 95.4,124.2 99.4,121.8 C103.4,119.3 108.5,115.8 112.1,113.6 C115.7,111.3 119.5,109.2 121,108.3" stroke="#fff" stroke-opacity="0.52" stroke-width="0.8"/>
<path d="M86.8,126.1 C88.7,125 94.2,122 98.2,119.6 C102.2,117.1 107.3,113.6 110.9,111.4 C114.5,109.1 118.3,107 119.8,106.1" stroke="#fff" stroke-opacity="0.47" stroke-width="0.8"/>
<path d="M88.4,128.5 C92.1,130.9 103.1,138 110.5,142.8 C117.9,147.6 125.3,152.4 132.7,157.2 C140.1,162 147.6,167 154.8,171.6 C162,176.2 172.5,182.8 176,185" stroke="#fff" stroke-opacity="0.59" stroke-width="1.1"/>
<path d="M89.9,126.1 C93.6,128.5 104.6,135.6 112,140.4 C119.4,145.2 126.8,150 134.2,154.8 C141.6,159.6 149.1,164.6 156.3,169.2 C163.5,173.8 174,180.4 177.5,182.6" stroke="#fff" stroke-opacity="0.47" stroke-width="1"/>
<linearGradient id="g19" gradientUnits="userSpaceOnUse" x1="22" y1="0" x2="85" y2="0"><stop offset="0.000" stop-color="#fff" stop-opacity="0.39"/><stop offset="0.316" stop-color="#fff" stop-opacity="0.43"/><stop offset="0.457" stop-color="#fff" stop-opacity="0.47"/><stop offset="0.659" stop-color="#fff" stop-opacity="0.51"/><stop offset="0.860" stop-color="#fff" stop-opacity="0.55"/><stop offset="1.000" stop-color="#fff" stop-opacity="0.59"/></linearGradient>
<path d="M22,20 C25.3,23.4 37.1,35.7 41.9,40.6 C46.7,45.5 47.2,46 50.8,49.5 C54.4,53 59.3,57.5 63.5,61.6 C67.7,65.7 72.6,70.9 76.2,74.3 C79.8,77.7 83.5,80.5 85,81.8" stroke="url(#g19)" stroke-width="1.1"/>
<path d="M-2,55 C0.4,56.5 8.1,61.1 12.7,64.1 C17.3,67.1 21.8,70.3 25.4,73 C29,75.7 32.8,78.8 34.3,80" stroke="#fff" stroke-opacity="0.36" stroke-width="1"/>
<linearGradient id="g20" gradientUnits="userSpaceOnUse" x1="-2" y1="0" x2="40.7" y2="0"><stop offset="0.000" stop-color="#fff" stop-opacity="0.51"/><stop offset="0.061" stop-color="#fff" stop-opacity="0.51"/><stop offset="0.344" stop-color="#fff" stop-opacity="0.52"/><stop offset="0.642" stop-color="#fff" stop-opacity="0.53"/><stop offset="0.850" stop-color="#fff" stop-opacity="0.44"/><stop offset="1.000" stop-color="#fff" stop-opacity="0.14"/></linearGradient>
<path d="M-2,88.5 C-1.6,88.5 -1.8,88.6 0.6,88.3 C3,88 8.6,87.1 12.7,86.8 C16.8,86.5 21.8,86.3 25.4,86.4 C29,86.5 31.7,87 34.3,87.6 C36.8,88.2 39.6,89.8 40.7,90.2" stroke="url(#g20)" stroke-width="2.4"/>
<linearGradient id="g21" gradientUnits="userSpaceOnUse" x1="38.1" y1="0" x2="86.4" y2="0"><stop offset="0.000" stop-color="#fff" stop-opacity="0.62"/><stop offset="0.133" stop-color="#fff" stop-opacity="0.60"/><stop offset="0.263" stop-color="#fff" stop-opacity="0.58"/><stop offset="0.395" stop-color="#fff" stop-opacity="0.57"/><stop offset="0.526" stop-color="#fff" stop-opacity="0.55"/><stop offset="0.789" stop-color="#fff" stop-opacity="0.53"/><stop offset="1.000" stop-color="#fff" stop-opacity="0.51"/></linearGradient>
<path d="M38.1,126.4 C39.2,126 42.4,125.1 44.5,123.9 C46.6,122.7 48.7,121.1 50.8,119.4 C52.9,117.7 55.1,115.9 57.2,113.7 C59.3,111.5 60.3,109.5 63.5,106.1 C66.7,102.7 72.4,97.1 76.2,93.4 C80,89.7 84.7,85.4 86.4,83.8" stroke="url(#g21)" stroke-width="1.3"/>
<linearGradient id="g22" gradientUnits="userSpaceOnUse" x1="-2" y1="0" x2="38.1" y2="0"><stop offset="0.000" stop-color="#fff" stop-opacity="0.55"/><stop offset="0.065" stop-color="#fff" stop-opacity="0.55"/><stop offset="0.367" stop-color="#fff" stop-opacity="0.58"/><stop offset="0.683" stop-color="#fff" stop-opacity="0.64"/><stop offset="1.000" stop-color="#fff" stop-opacity="0.77"/></linearGradient>
<path d="M-2,131.4 C-1.6,131.4 -1.8,131.4 0.6,131.2 C3,131 8.6,130.5 12.7,130 C16.8,129.5 21.2,128.9 25.4,128.3 C29.6,127.7 36,126.7 38.1,126.4" stroke="url(#g22)" stroke-width="1.5"/>
<linearGradient id="g23" gradientUnits="userSpaceOnUse" x1="38" y1="0" x2="87.5" y2="0"><stop offset="0.000" stop-color="#fff" stop-opacity="0.23"/><stop offset="0.079" stop-color="#fff" stop-opacity="0.38"/><stop offset="0.259" stop-color="#fff" stop-opacity="0.51"/><stop offset="0.515" stop-color="#fff" stop-opacity="0.54"/><stop offset="0.772" stop-color="#fff" stop-opacity="0.55"/><stop offset="1.000" stop-color="#fff" stop-opacity="0.77"/></linearGradient>
<path d="M38,130 C38.6,129.8 39.8,129.2 41.9,128.9 C44,128.6 47.2,128.2 50.8,127.9 C54.4,127.7 59.3,127.5 63.5,127.4 C67.7,127.3 72.2,127.3 76.2,127.4 C80.2,127.5 85.6,127.8 87.5,127.9" stroke="url(#g23)" stroke-width="1.5"/>
<path d="M-2,167.8 C-1.5,167.3 -2.9,168.6 1.1,165 C5.1,161.4 15.9,151.8 22.1,146.2 C28.3,140.6 34.8,134.3 38.1,131.5 C41.4,128.7 41.4,129.8 42,129.5" stroke="#fff" stroke-opacity="0.49" stroke-width="1.1"/>
<path d="M-2,201.8 C-1.5,201.4 -2.9,202.6 1.1,199.2 C5.1,195.8 14.9,187.4 22.1,181.5 C29.3,175.6 36.8,170 44.2,163.9 C51.6,157.8 59.3,150.7 66.3,145 C73.3,139.3 82.9,132.1 86.2,129.5" stroke="#fff" stroke-opacity="0.53" stroke-width="1.2"/>
<path d="M50.8,99.7 C52.9,101.4 59.3,106.5 63.5,109.9 C67.7,113.3 72.4,117.1 76.2,120.1 C80,123.1 84.7,126.4 86.4,127.7" stroke="#fff" stroke-opacity="0.26" stroke-width="1"/>
<ellipse cx="85.4" cy="82.7" rx="2.6" ry="1.6" fill="#fff" fill-opacity="0.95" stroke="none"/>
</g>
<g filter="url(#b05)" fill="none" stroke-linecap="round" stroke-linejoin="round">
<rect x="-20" y="-20" width="214" height="253" fill="none" stroke="none"/>
<path d="M177,199 L150,214 L177,214z" fill="#fff" fill-opacity="0.10" stroke="none"/>
<ellipse cx="85.2" cy="82.7" rx="1.2" ry="0.9" fill="#fff" fill-opacity="0.60" stroke="none"/>
</g>
<g fill="none" stroke-linecap="round" stroke-linejoin="round">
<rect x="-20" y="-20" width="214" height="253" fill="none" stroke="none"/>
<path d="M87,38 L87,126" stroke="#000" stroke-opacity="0.45" stroke-width="0.6"/>
<path d="M87,130 L87,213" stroke="#fff" stroke-opacity="0.03" stroke-width="1"/>
<path d="M0,130H174M0,132H174M0,134H174M0,136H174M0,138H174M0,140H174M0,142H174M0,144H174M0,146H174M0,148H174M0,150H174M0,152H174M0,154H174M0,156H174M0,158H174M0,160H174M0,162H174M0,164H174M0,166H174M0,168H174M0,170H174M0,172H174M0,174H174M0,176H174M0,178H174M0,180H174M0,182H174M0,184H174M0,186H174M0,188H174M0,190H174M0,192H174M0,194H174M0,196H174M0,198H174M0,200H174M0,202H174M0,204H174M0,206H174M0,208H174M0,210H174M0,212H174" stroke="#fff" stroke-opacity="0.02" stroke-width="0.7" stroke-linecap="butt"/>
<path d="M0,50H87M0,52H87M0,54H87M0,56H87M0,58H87M0,60H87M0,62H87M0,64H87M0,66H87M0,68H87M0,70H87M0,72H87M0,74H87M0,76H87M0,78H87M0,80H87M0,82H87M0,84H87M0,86H87M0,88H87M0,90H87M0,92H87M0,94H87M0,96H87M0,98H87M0,100H87M0,102H87M0,104H87M0,106H87M0,108H87M0,110H87M0,112H87M0,114H87M0,116H87M0,118H87M0,120H87M0,122H87M0,124H87M0,126H87" stroke="#fff" stroke-opacity="0.01" stroke-width="0.7" stroke-linecap="butt"/>
</g>
</g></svg>
<rect x="726.6" y="70.1" width="18" height="213.2" fill="url(#cb)" stroke="#262626" stroke-opacity="0.55" stroke-width="0.5"/>
<path d="M744.6,283 h-1.8" stroke="#262626" stroke-width="0.6"/>
<text x="749.6" y="288.3" font-size="14.1">0</text>
<path d="M744.6,247.5 h-1.8" stroke="#262626" stroke-width="0.6"/>
<text x="749.6" y="252.8" font-size="14.1">10</text>
<path d="M744.6,212 h-1.8" stroke="#262626" stroke-width="0.6"/>
<text x="749.6" y="217.3" font-size="14.1">20</text>
<path d="M744.6,176.5 h-1.8" stroke="#262626" stroke-width="0.6"/>
<text x="749.6" y="181.8" font-size="14.1">30</text>
<path d="M744.6,141 h-1.8" stroke="#262626" stroke-width="0.6"/>
<text x="749.6" y="146.3" font-size="14.1">40</text>
<path d="M744.6,105.5 h-1.8" stroke="#262626" stroke-width="0.6"/>
<text x="749.6" y="110.8" font-size="14.1">50</text>
<path d="M744.6,70 h-1.8" stroke="#262626" stroke-width="0.6"/>
<text x="749.6" y="75.3" font-size="14.1">60</text>
<text x="781.7" y="181.2" font-size="15.8" text-anchor="middle" transform="rotate(-90 781.7 181.2)">Reflection (%)</text>
<text x="532.4" y="288.3" font-size="14.1" text-anchor="end">500</text>
<text x="532.4" y="217.3" font-size="14.1" text-anchor="end">550</text>
<text x="532.4" y="146.3" font-size="14.1" text-anchor="end">600</text>
<text x="532.4" y="75.3" font-size="14.1" text-anchor="end">650</text>
<text x="537" y="299.7" font-size="14.1" text-anchor="middle">-15</text>
<text x="566" y="299.7" font-size="14.1" text-anchor="middle">-10</text>
<text x="595" y="299.7" font-size="14.1" text-anchor="middle">-5</text>
<text x="624" y="299.7" font-size="14.1" text-anchor="middle">0</text>
<text x="653" y="299.7" font-size="14.1" text-anchor="middle">5</text>
<text x="682" y="299.7" font-size="14.1" text-anchor="middle">10</text>
<text x="711" y="299.7" font-size="14.1" text-anchor="middle">15</text>
<text x="626.8" y="327.7" font-size="15.8" text-anchor="middle">Incident angle, <tspan class="it">&#952;</tspan> (&#176;)</text>
<text x="494.7" y="181.3" font-size="15.8" text-anchor="middle" transform="rotate(-90 494.7 181.3)">Wavelength, <tspan class="it">&#955;</tspan> (nm)</text>
<text x="634.8" y="37.3" font-size="15.9" text-anchor="middle">Experiment Result</text>
<text x="627.5" y="61.3" font-size="14.1" text-anchor="middle">X - &#915; - M</text>
<text x="461.3" y="11.5" font-size="16" fill="#000">(b)</text>
<svg x="68" y="415.4" width="174" height="213" viewBox="0 0 174 213" overflow="hidden">
<g filter="url(#jet)">
<rect x="-5" y="-5" width="184" height="223" fill="rgb(5,5,5)"/>
<g filter="url(#b8)" fill="none" stroke-linecap="round" stroke-linejoin="round">
<rect x="-20" y="-20" width="214" height="253" fill="none" stroke="none"/>
<path d="M-20,60 L194,60 L194,230 L-20,230z" fill="#fff" fill-opacity="0.04" stroke="none"/>
<path d="M-20,110 L194,110 L194,230 L-20,230z" fill="#fff" fill-opacity="0.03" stroke="none"/>
<path d="M-20,150 L194,150 L194,230 L-20,230z" fill="#fff" fill-opacity="0.07" stroke="none"/>
<path d="M-10,12 C6.2,20.5 54.7,48.3 87,63 C119.3,77.7 167.8,93.8 184,100" stroke="#fff" stroke-opacity="0.05" stroke-width="14"/>
<path d="M-10,114 C6.2,105.5 54.7,78.3 87,63 C119.3,47.7 167.8,28.8 184,22" stroke="#fff" stroke-opacity="0.05" stroke-width="14"/>
</g>
<g filter="url(#b4)" fill="none" stroke-linecap="round" stroke-linejoin="round">
<rect x="-20" y="-20" width="214" height="253" fill="none" stroke="none"/>
<path d="M-20,158 L87,156 L87,186 L-20,187z" fill="#fff" fill-opacity="0.07" stroke="none"/>
<path d="M-20,188 L87,187 L87,230 L-20,230z" fill="#fff" fill-opacity="0.05" stroke="none"/>
<path d="M-2,173.3 C5.7,173.2 29.2,173.2 44,172.8 C58.8,172.4 79.8,171.4 87,171.1" stroke="#fff" stroke-opacity="0.20" stroke-width="9" stroke-linecap="butt"/>
</g>
<g filter="url(#b25)" fill="none" stroke-linecap="round" stroke-linejoin="round">
<rect x="-20" y="-20" width="214" height="253" fill="none" stroke="none"/>
<path d="M-2,15.1 C-1.7,15.3 -4,14 0,16.2 C4,18.4 14.7,24.3 22.1,28.3 C29.5,32.3 36.8,36.3 44.2,40.3 C51.6,44.3 60,48.9 66.3,52.2 C72.6,55.5 78.6,58.5 82,60.2 C85.4,61.9 85.8,62.1 86.6,62.5" stroke="#fff" stroke-opacity="0.10" stroke-width="5"/>
<path d="M87.8,62.5 C88.7,62.1 89.2,61.9 93,60.3 C96.8,58.7 103.9,55.5 110.5,52.7 C117.1,49.9 125.3,46.5 132.7,43.4 C140.1,40.3 147.6,36.9 154.8,33.9 C162,30.9 172.5,26.7 176,25.3" stroke="#fff" stroke-opacity="0.09" stroke-width="5"/>
<path d="M-2,110.1 C-1.7,109.9 -4,111.1 0,109 C4,106.9 15.9,100.6 22.1,97.5 C28.3,94.4 32.4,92.8 37,90.4 C41.6,88.1 45.5,85.7 49.7,83.4 C53.9,81.1 58.2,78.7 62.4,76.4 C66.6,74.1 71.1,71.5 75.1,69.5 C79.1,67.5 84.7,65.1 86.6,64.2" stroke="#fff" stroke-opacity="0.10" stroke-width="5"/>
<path d="M87.8,64.2 C89.9,65.3 96.3,68.6 100.5,70.7 C104.7,72.8 109,75 113.2,77.1 C117.4,79.2 121.9,81.5 125.9,83.4 C129.9,85.3 132.2,86.5 137,88.5 C141.8,90.5 148.3,93 154.8,95.5 C161.3,98 172.5,102.1 176,103.4" stroke="#fff" stroke-opacity="0.09" stroke-width="5"/>
<path d="M88,169 C91.8,168.2 103,165.8 110.5,164.2 C118,162.6 125.3,160.8 132.7,159.2 C140.1,157.5 147.6,155.9 154.8,154.3 C162,152.7 172.5,150.5 176,149.7" stroke="#fff" stroke-opacity="0.14" stroke-width="5"/>
<path d="M88,171.1 C91.8,172 103,174.8 110.5,176.6 C118,178.4 125.3,180.1 132.7,182.1 C140.1,184.1 147.6,186.9 154.8,188.8 C162,190.7 172.5,192.9 176,193.7" stroke="#fff" stroke-opacity="0.14" stroke-width="6"/>
</g>
<g filter="url(#b15)" fill="none" stroke-linecap="round" stroke-linejoin="round">
<rect x="-20" y="-20" width="214" height="253" fill="none" stroke="none"/>
<linearGradient id="g24" gradientUnits="userSpaceOnUse" x1="-2" y1="0" x2="86.6" y2="0"><stop offset="0.000" stop-color="#fff" stop-opacity="0.73"/><stop offset="0.023" stop-color="#fff" stop-opacity="0.73"/><stop offset="0.272" stop-color="#fff" stop-opacity="0.73"/><stop offset="0.521" stop-color="#fff" stop-opacity="0.71"/><stop offset="0.771" stop-color="#fff" stop-opacity="0.68"/><stop offset="0.948" stop-color="#fff" stop-opacity="0.55"/><stop offset="1.000" stop-color="#fff" stop-opacity="0.19"/></linearGradient>
<path d="M-2,15.1 C-1.7,15.3 -4,14 0,16.2 C4,18.4 14.7,24.3 22.1,28.3 C29.5,32.3 36.8,36.3 44.2,40.3 C51.6,44.3 60,48.9 66.3,52.2 C72.6,55.5 78.6,58.5 82,60.2 C85.4,61.9 85.8,62.1 86.6,62.5" stroke="url(#g24)" stroke-width="2.8"/>
<linearGradient id="g25" gradientUnits="userSpaceOnUse" x1="87.8" y1="0" x2="176" y2="0"><stop offset="0.000" stop-color="#fff" stop-opacity="0.19"/><stop offset="0.059" stop-color="#fff" stop-opacity="0.52"/><stop offset="0.257" stop-color="#fff" stop-opacity="0.65"/><stop offset="0.509" stop-color="#fff" stop-opacity="0.65"/><stop offset="0.760" stop-color="#fff" stop-opacity="0.65"/><stop offset="1.000" stop-color="#fff" stop-opacity="0.65"/></linearGradient>
<path d="M87.8,62.5 C88.7,62.1 89.2,61.9 93,60.3 C96.8,58.7 103.9,55.5 110.5,52.7 C117.1,49.9 125.3,46.5 132.7,43.4 C140.1,40.3 147.6,36.9 154.8,33.9 C162,30.9 172.5,26.7 176,25.3" stroke="url(#g25)" stroke-width="2.8"/>
<linearGradient id="g26" gradientUnits="userSpaceOnUse" x1="-2" y1="0" x2="86.6" y2="0"><stop offset="0.000" stop-color="#fff" stop-opacity="0.74"/><stop offset="0.023" stop-color="#fff" stop-opacity="0.74"/><stop offset="0.272" stop-color="#fff" stop-opacity="0.71"/><stop offset="0.440" stop-color="#fff" stop-opacity="0.69"/><stop offset="0.584" stop-color="#fff" stop-opacity="0.68"/><stop offset="0.727" stop-color="#fff" stop-opacity="0.68"/><stop offset="0.870" stop-color="#fff" stop-opacity="0.71"/><stop offset="1.000" stop-color="#fff" stop-opacity="0.64"/></linearGradient>
<path d="M-2,110.1 C-1.7,109.9 -4,111.1 0,109 C4,106.9 15.9,100.6 22.1,97.5 C28.3,94.4 32.4,92.8 37,90.4 C41.6,88.1 45.5,85.7 49.7,83.4 C53.9,81.1 58.2,78.7 62.4,76.4 C66.6,74.1 71.1,71.5 75.1,69.5 C79.1,67.5 84.7,65.1 86.6,64.2" stroke="url(#g26)" stroke-width="3"/>
<linearGradient id="g27" gradientUnits="userSpaceOnUse" x1="87.8" y1="0" x2="176" y2="0"><stop offset="0.000" stop-color="#fff" stop-opacity="0.52"/><stop offset="0.144" stop-color="#fff" stop-opacity="0.63"/><stop offset="0.288" stop-color="#fff" stop-opacity="0.61"/><stop offset="0.432" stop-color="#fff" stop-opacity="0.61"/><stop offset="0.558" stop-color="#fff" stop-opacity="0.61"/><stop offset="0.760" stop-color="#fff" stop-opacity="0.58"/><stop offset="1.000" stop-color="#fff" stop-opacity="0.58"/></linearGradient>
<path d="M87.8,64.2 C89.9,65.3 96.3,68.6 100.5,70.7 C104.7,72.8 109,75 113.2,77.1 C117.4,79.2 121.9,81.5 125.9,83.4 C129.9,85.3 132.2,86.5 137,88.5 C141.8,90.5 148.3,93 154.8,95.5 C161.3,98 172.5,102.1 176,103.4" stroke="url(#g27)" stroke-width="3"/>
<path d="M-2,173.3 C5.7,173.2 29.2,173.2 44,172.8 C58.8,172.4 79.8,171.4 87,171.1" stroke="#fff" stroke-opacity="0.62" stroke-width="3.4" stroke-linecap="butt"/>
</g>
<g filter="url(#b1)" fill="none" stroke-linecap="round" stroke-linejoin="round">
<rect x="-20" y="-20" width="214" height="253" fill="none" stroke="none"/>
<linearGradient id="g28" gradientUnits="userSpaceOnUse" x1="88" y1="0" x2="176" y2="0"><stop offset="0.000" stop-color="#fff" stop-opacity="0.45"/><stop offset="0.256" stop-color="#fff" stop-opacity="0.82"/><stop offset="0.508" stop-color="#fff" stop-opacity="0.88"/><stop offset="0.759" stop-color="#fff" stop-opacity="0.94"/><stop offset="1.000" stop-color="#fff" stop-opacity="0.97"/></linearGradient>
<path d="M88,169 C91.8,168.2 103,165.8 110.5,164.2 C118,162.6 125.3,160.8 132.7,159.2 C140.1,157.5 147.6,155.9 154.8,154.3 C162,152.7 172.5,150.5 176,149.7" stroke="url(#g28)" stroke-width="2.2"/>
<linearGradient id="g29" gradientUnits="userSpaceOnUse" x1="88" y1="0" x2="176" y2="0"><stop offset="0.000" stop-color="#fff" stop-opacity="0.39"/><stop offset="0.256" stop-color="#fff" stop-opacity="0.64"/><stop offset="0.508" stop-color="#fff" stop-opacity="0.64"/><stop offset="0.759" stop-color="#fff" stop-opacity="0.62"/><stop offset="1.000" stop-color="#fff" stop-opacity="0.59"/></linearGradient>
<path d="M88,171.1 C91.8,172 103,174.8 110.5,176.6 C118,178.4 125.3,180.1 132.7,182.1 C140.1,184.1 147.6,186.9 154.8,188.8 C162,190.7 172.5,192.9 176,193.7" stroke="url(#g29)" stroke-width="2.8"/>
</g>
<g filter="url(#b07)" fill="none" stroke-linecap="round" stroke-linejoin="round">
<rect x="-20" y="-20" width="214" height="253" fill="none" stroke="none"/>
<linearGradient id="g30" gradientUnits="userSpaceOnUse" x1="-2" y1="0" x2="176" y2="0"><stop offset="0.000" stop-color="#fff" stop-opacity="0.55"/><stop offset="0.011" stop-color="#fff" stop-opacity="0.55"/><stop offset="0.135" stop-color="#fff" stop-opacity="0.60"/><stop offset="0.219" stop-color="#fff" stop-opacity="0.66"/><stop offset="0.290" stop-color="#fff" stop-opacity="0.91"/><stop offset="0.362" stop-color="#fff" stop-opacity="0.66"/><stop offset="0.433" stop-color="#fff" stop-opacity="0.66"/><stop offset="0.469" stop-color="#fff" stop-opacity="0.73"/><stop offset="0.504" stop-color="#fff" stop-opacity="0.84"/><stop offset="0.540" stop-color="#fff" stop-opacity="0.73"/><stop offset="0.576" stop-color="#fff" stop-opacity="0.66"/><stop offset="0.647" stop-color="#fff" stop-opacity="0.73"/><stop offset="0.719" stop-color="#fff" stop-opacity="0.77"/><stop offset="0.754" stop-color="#fff" stop-opacity="0.91"/><stop offset="0.781" stop-color="#fff" stop-opacity="0.73"/><stop offset="0.881" stop-color="#fff" stop-opacity="0.66"/><stop offset="1.000" stop-color="#fff" stop-opacity="0.59"/></linearGradient>
<path d="M-2,57.2 C-1.7,57.4 -4,56.2 0,58.2 C4,60.2 15.9,66.1 22.1,69.2 C28.3,72.3 32.4,74.4 37,76.7 C41.6,79 45.5,80.9 49.7,83.1 C53.9,85.3 58.2,87.6 62.4,89.8 C66.6,92 71.9,94.7 75.1,96.1 C78.3,97.5 79.4,97.8 81.5,98.3 C83.6,98.8 85.7,99.1 87.8,99.1 C89.9,99.1 92.1,98.8 94.2,98.3 C96.3,97.8 97.3,97.3 100.5,96.1 C103.7,94.9 109,92.8 113.2,91.1 C117.4,89.4 122.7,87.2 125.9,86 C129.1,84.8 130.5,84.4 132.3,83.8 C134.2,83.2 133.2,83.7 137,82.2 C140.8,80.7 148.3,77.5 154.8,75 C161.3,72.5 172.5,68.2 176,66.9" stroke="url(#g30)" stroke-width="1.2"/>
<linearGradient id="g31" gradientUnits="userSpaceOnUse" x1="-2" y1="0" x2="85.3" y2="0"><stop offset="0.000" stop-color="#fff" stop-opacity="0.65"/><stop offset="0.023" stop-color="#fff" stop-opacity="0.64"/><stop offset="0.276" stop-color="#fff" stop-opacity="0.62"/><stop offset="0.447" stop-color="#fff" stop-opacity="0.61"/><stop offset="0.592" stop-color="#fff" stop-opacity="0.59"/><stop offset="0.738" stop-color="#fff" stop-opacity="0.58"/><stop offset="0.883" stop-color="#fff" stop-opacity="0.56"/><stop offset="1.000" stop-color="#fff" stop-opacity="0.55"/></linearGradient>
<path d="M-2,144.3 C-1.7,144.1 -4,145.2 0,143.3 C4,141.4 15.9,135.5 22.1,132.6 C28.3,129.7 32.4,128.1 37,126 C41.6,124 45.5,122.2 49.7,120.3 C53.9,118.4 58.2,116.5 62.4,114.6 C66.6,112.7 71.3,110.4 75.1,108.8 C78.9,107.2 83.6,105.4 85.3,104.7" stroke="url(#g31)" stroke-width="1.3"/>
<linearGradient id="g32" gradientUnits="userSpaceOnUse" x1="90.4" y1="0" x2="176" y2="0"><stop offset="0.000" stop-color="#fff" stop-opacity="0.73"/><stop offset="0.118" stop-color="#fff" stop-opacity="0.76"/><stop offset="0.254" stop-color="#fff" stop-opacity="0.79"/><stop offset="0.404" stop-color="#fff" stop-opacity="0.82"/><stop offset="0.544" stop-color="#fff" stop-opacity="0.85"/><stop offset="0.752" stop-color="#fff" stop-opacity="0.88"/><stop offset="1.000" stop-color="#fff" stop-opacity="0.91"/></linearGradient>
<path d="M90.4,104.7 C92.1,105.3 96.9,107.2 100.5,108.5 C104.1,109.8 108,111.3 112.1,112.8 C116.2,114.3 120.8,116 125,117.6 C129.2,119.1 132,120.2 137,122.1 C142,124 148.3,126.3 154.8,128.8 C161.3,131.3 172.5,135.6 176,136.9" stroke="url(#g32)" stroke-width="1.2"/>
<path d="M-2,194 C5.7,193.8 29.2,193.3 44,193 C58.8,192.7 79.8,192.2 87,192.1" stroke="#fff" stroke-opacity="0.89" stroke-width="1.3" stroke-linecap="butt"/>
<linearGradient id="g33" gradientUnits="userSpaceOnUse" x1="87" y1="0" x2="176" y2="0"><stop offset="0.000" stop-color="#fff" stop-opacity="0.90"/><stop offset="0.140" stop-color="#fff" stop-opacity="0.85"/><stop offset="0.264" stop-color="#fff" stop-opacity="0.77"/><stop offset="0.513" stop-color="#fff" stop-opacity="0.77"/><stop offset="0.762" stop-color="#fff" stop-opacity="0.43"/><stop offset="1.000" stop-color="#fff" stop-opacity="0.34"/></linearGradient>
<path d="M87,192.1 C89.1,191.7 95.6,190.8 99.5,189.9 C103.4,189 105,187.9 110.5,186.6 C116,185.3 125.3,183.6 132.7,182.1 C140.1,180.6 147.6,178.8 154.8,177.7 C162,176.5 172.5,175.6 176,175.2" stroke="url(#g33)" stroke-width="1"/>
<path d="M-2,197.3 C5.7,197.2 29,197 44,196.9 C59,196.8 80.7,196.6 88,196.5" stroke="#fff" stroke-opacity="0.51" stroke-width="1"/>
<linearGradient id="g34" gradientUnits="userSpaceOnUse" x1="88" y1="0" x2="176" y2="0"><stop offset="0.000" stop-color="#fff" stop-opacity="0.55"/><stop offset="0.256" stop-color="#fff" stop-opacity="0.65"/><stop offset="0.508" stop-color="#fff" stop-opacity="0.75"/><stop offset="0.759" stop-color="#fff" stop-opacity="0.84"/><stop offset="1.000" stop-color="#fff" stop-opacity="0.94"/></linearGradient>
<path d="M88,196.5 C91.8,197.2 103,199.4 110.5,200.9 C118,202.4 125.3,203.9 132.7,205.4 C140.1,206.9 147.6,208.5 154.8,209.8 C162,211.1 172.5,212.5 176,213" stroke="url(#g34)" stroke-width="1.3"/>
<ellipse cx="136" cy="182.8" rx="2.2" ry="1" fill="#fff" fill-opacity="0.75" stroke="none" transform="rotate(14 136 182.8)"/>
</g>
<g filter="url(#b05)" fill="none" stroke-linecap="round" stroke-linejoin="round">
<rect x="-20" y="-20" width="214" height="253" fill="none" stroke="none"/>
<ellipse cx="50.6" cy="83.5" rx="1.6" ry="0.9" fill="#fff" fill-opacity="0.80" stroke="none" transform="rotate(27 50.6 83.5)"/>
<ellipse cx="133" cy="83.5" rx="1.6" ry="0.9" fill="#fff" fill-opacity="0.80" stroke="none" transform="rotate(-22 133 83.5)"/>
</g>
</g></svg>
<rect x="257.9" y="415.5" width="17.5" height="213.2" fill="url(#cb)" stroke="#262626" stroke-opacity="0.55" stroke-width="0.5"/>
<path d="M275.4,608.9 h-1.8" stroke="#262626" stroke-width="0.6"/>
<text x="280.4" y="614.2" font-size="14.1">10</text>
<path d="M275.4,586.8 h-1.8" stroke="#262626" stroke-width="0.6"/>
<text x="280.4" y="592.1" font-size="14.1">20</text>
<path d="M275.4,564.7 h-1.8" stroke="#262626" stroke-width="0.6"/>
<text x="280.4" y="570" font-size="14.1">30</text>
<path d="M275.4,542.6 h-1.8" stroke="#262626" stroke-width="0.6"/>
<text x="280.4" y="547.9" font-size="14.1">40</text>
<path d="M275.4,520.5 h-1.8" stroke="#262626" stroke-width="0.6"/>
<text x="280.4" y="525.8" font-size="14.1">50</text>
<path d="M275.4,498.3 h-1.8" stroke="#262626" stroke-width="0.6"/>
<text x="280.4" y="503.6" font-size="14.1">60</text>
<path d="M275.4,476.2 h-1.8" stroke="#262626" stroke-width="0.6"/>
<text x="280.4" y="481.5" font-size="14.1">70</text>
<path d="M275.4,454.1 h-1.8" stroke="#262626" stroke-width="0.6"/>
<text x="280.4" y="459.4" font-size="14.1">80</text>
<path d="M275.4,432 h-1.8" stroke="#262626" stroke-width="0.6"/>
<text x="280.4" y="437.3" font-size="14.1">90</text>
<text x="314.7" y="526.6" font-size="15.8" text-anchor="middle" transform="rotate(-90 314.7 526.6)">Reflection (%)</text>
<text x="63.4" y="619.1" font-size="14.1" text-anchor="end">500</text>
<text x="63.4" y="582.2" font-size="14.1" text-anchor="end">550</text>
<text x="63.4" y="545.2" font-size="14.1" text-anchor="end">600</text>
<text x="63.4" y="508.2" font-size="14.1" text-anchor="end">650</text>
<text x="63.4" y="471.2" font-size="14.1" text-anchor="end">700</text>
<text x="63.4" y="434.2" font-size="14.1" text-anchor="end">750</text>
<text x="68" y="645.1" font-size="14.1" text-anchor="middle">-15</text>
<text x="97" y="645.1" font-size="14.1" text-anchor="middle">-10</text>
<text x="126" y="645.1" font-size="14.1" text-anchor="middle">-5</text>
<text x="155" y="645.1" font-size="14.1" text-anchor="middle">0</text>
<text x="184" y="645.1" font-size="14.1" text-anchor="middle">5</text>
<text x="213" y="645.1" font-size="14.1" text-anchor="middle">10</text>
<text x="242" y="645.1" font-size="14.1" text-anchor="middle">15</text>
<text x="157.1" y="673.1" font-size="15.8" text-anchor="middle">Incident angle, <tspan class="it">&#952;</tspan> (&#176;)</text>
<text x="32" y="526.7" font-size="15.8" text-anchor="middle" transform="rotate(-90 32 526.7)">Wavelength, <tspan class="it">&#955;</tspan> (nm)</text>
<text x="157.5" y="382.7" font-size="15.9" text-anchor="middle">Rsoft Simulation</text>
<text x="157.2" y="406.7" font-size="14.1" text-anchor="middle">X - &#915; - M</text>
<text x="0" y="356.9" font-size="16" fill="#000">(c)</text>
<svg x="537" y="415.4" width="174" height="213" viewBox="0 0 174 213" overflow="hidden">
<g filter="url(#jet)">
<rect x="-5" y="-5" width="184" height="223" fill="rgb(5,5,5)"/>
<g filter="url(#b4)" fill="none" stroke-linecap="round" stroke-linejoin="round">
<rect x="-20" y="-20" width="214" height="253" fill="none" stroke="none"/>
<path d="M-20,118 L87,118 L87,230 L-20,230z" fill="#fff" fill-opacity="0.06" stroke="none"/>
<path d="M-20,148 L87,148 L87,230 L-20,230z" fill="#fff" fill-opacity="0.10" stroke="none"/>
</g>
<g filter="url(#b25)" fill="none" stroke-linecap="round" stroke-linejoin="round">
<rect x="-20" y="-20" width="214" height="253" fill="none" stroke="none"/>
<path d="M-20,164 L87,162 L87,230 L-20,230z" fill="#fff" fill-opacity="0.08" stroke="none"/>
<path d="M-20,192 L87,190 L87,230 L-20,230z" fill="#fff" fill-opacity="0.12" stroke="none"/>
<path d="M-20,203 L87,203 L87,230 L-20,230z" fill="#fff" fill-opacity="0.05" stroke="none"/>
</g>
<g filter="url(#b07)" fill="none" stroke-linecap="round" stroke-linejoin="round">
<rect x="-20" y="-20" width="214" height="253" fill="none" stroke="none"/>
<path d="M72,71 L87,64 L87,100 L60,100 L45,92z" fill="#fff" fill-opacity="0.03" stroke="none"/>
</g>
<g fill="none" stroke-linecap="round" stroke-linejoin="round">
<rect x="-20" y="-20" width="214" height="253" fill="none" stroke="none"/>
<path d="M87,-5 L180,-5 L180,220 L87,220z" fill="#000" fill-opacity="1.00" stroke="none"/>
<path d="M87,-5 L180,-5 L180,220 L87,220z" fill="#fff" fill-opacity="0.02" stroke="none"/>
<path d="M87,104 L87,213" stroke="#000" stroke-opacity="0.50" stroke-width="0.8"/>
</g>
<g filter="url(#b25)" fill="none" stroke-linecap="round" stroke-linejoin="round">
<rect x="-20" y="-20" width="214" height="253" fill="none" stroke="none"/>
<path d="M-2,2.7 C-1.7,2.9 -4,1.3 0,4 C4,6.7 14.7,13.9 22.1,18.8 C29.5,23.8 36.8,28.7 44.2,33.7 C51.6,38.7 59.7,44.2 66.3,48.6 C72.9,53 80.4,58.1 84,60.4 C87.6,62.7 87.3,62.2 88,62.6" stroke="#fff" stroke-opacity="0.08" stroke-width="4"/>
<path d="M88,62.6 C88.6,62.1 87.8,62 91.6,59.9 C95.3,57.8 103.9,53.4 110.5,49.9 C117.1,46.4 123.6,43 131,39.1 C138.4,35.2 147.3,30.4 154.8,26.4 C162.3,22.4 172.5,17.1 176,15.2" stroke="#fff" stroke-opacity="0.07" stroke-width="4"/>
<path d="M-2,115.8 C-1.7,115.6 -4,116.9 0,114.6 C4,112.2 15.9,105.3 22.1,101.7 C28.3,98.1 32.4,95.7 37,93 C41.6,90.3 46.3,87.4 49.7,85.3 C53.1,83.2 54.1,82.5 57.3,80.3 C60.5,78.1 65.2,74.5 68.8,72 C72.4,69.5 75.7,67.1 78.9,65.6 C82.1,64.1 86.3,63.5 87.8,63.1" stroke="#fff" stroke-opacity="0.09" stroke-width="4"/>
<path d="M87.8,63.1 C89.3,63.5 93.5,64.2 96.7,65.6 C99.9,67 102.5,69 106.9,71.4 C111.4,73.9 118.4,77.5 123.4,80.3 C128.4,83 131.8,85.3 137,87.9 C142.2,90.5 148.3,93 154.8,96 C161.3,99 172.5,104.2 176,105.8" stroke="#fff" stroke-opacity="0.08" stroke-width="4"/>
<path d="M-2,172.7 C5.7,172.6 29.2,172.3 44,171.9 C58.8,171.5 79.8,170.7 87,170.5" stroke="#fff" stroke-opacity="0.16" stroke-width="6" stroke-linecap="butt"/>
<path d="M-2,192.2 C5.7,191.9 29.2,190.8 44,190.4 C58.8,190 79.8,189.7 87,189.5" stroke="#fff" stroke-opacity="0.12" stroke-width="4" stroke-linecap="butt"/>
<path d="M-2,172.7 C5.7,172.6 29.2,172.3 44,171.9 C58.8,171.5 79.8,170.7 87,170.5" stroke="#fff" stroke-opacity="0.73" stroke-width="5" stroke-linecap="butt"/>
</g>
<g filter="url(#b15)" fill="none" stroke-linecap="round" stroke-linejoin="round">
<rect x="-20" y="-20" width="214" height="253" fill="none" stroke="none"/>
<linearGradient id="g35" gradientUnits="userSpaceOnUse" x1="-2" y1="0" x2="87.8" y2="0"><stop offset="0.000" stop-color="#fff" stop-opacity="0.73"/><stop offset="0.022" stop-color="#fff" stop-opacity="0.73"/><stop offset="0.268" stop-color="#fff" stop-opacity="0.70"/><stop offset="0.434" stop-color="#fff" stop-opacity="0.69"/><stop offset="0.576" stop-color="#fff" stop-opacity="0.67"/><stop offset="0.660" stop-color="#fff" stop-opacity="0.70"/><stop offset="0.788" stop-color="#fff" stop-opacity="0.67"/><stop offset="0.901" stop-color="#fff" stop-opacity="0.73"/><stop offset="1.000" stop-color="#fff" stop-opacity="0.64"/></linearGradient>
<path d="M-2,115.8 C-1.7,115.6 -4,116.9 0,114.6 C4,112.2 15.9,105.3 22.1,101.7 C28.3,98.1 32.4,95.7 37,93 C41.6,90.3 46.3,87.4 49.7,85.3 C53.1,83.2 54.1,82.5 57.3,80.3 C60.5,78.1 65.2,74.5 68.8,72 C72.4,69.5 75.7,67.1 78.9,65.6 C82.1,64.1 86.3,63.5 87.8,63.1" stroke="url(#g35)" stroke-width="3.2"/>
<linearGradient id="g36" gradientUnits="userSpaceOnUse" x1="87.8" y1="0" x2="176" y2="0"><stop offset="0.000" stop-color="#fff" stop-opacity="0.46"/><stop offset="0.101" stop-color="#fff" stop-opacity="0.77"/><stop offset="0.217" stop-color="#fff" stop-opacity="0.71"/><stop offset="0.404" stop-color="#fff" stop-opacity="0.71"/><stop offset="0.558" stop-color="#fff" stop-opacity="0.68"/><stop offset="0.760" stop-color="#fff" stop-opacity="0.64"/><stop offset="1.000" stop-color="#fff" stop-opacity="0.64"/></linearGradient>
<path d="M87.8,63.1 C89.3,63.5 93.5,64.2 96.7,65.6 C99.9,67 102.5,69 106.9,71.4 C111.4,73.9 118.4,77.5 123.4,80.3 C128.4,83 131.8,85.3 137,87.9 C142.2,90.5 148.3,93 154.8,96 C161.3,99 172.5,104.2 176,105.8" stroke="url(#g36)" stroke-width="3"/>
<path d="M-2,192.2 C5.7,191.9 29.2,190.8 44,190.4 C58.8,190 79.8,189.7 87,189.5" stroke="#fff" stroke-opacity="0.67" stroke-width="3.2" stroke-linecap="butt"/>
</g>
<g filter="url(#b1)" fill="none" stroke-linecap="round" stroke-linejoin="round">
<rect x="-20" y="-20" width="214" height="253" fill="none" stroke="none"/>
<linearGradient id="g37" gradientUnits="userSpaceOnUse" x1="-2" y1="0" x2="88" y2="0"><stop offset="0.000" stop-color="#fff" stop-opacity="0.63"/><stop offset="0.022" stop-color="#fff" stop-opacity="0.63"/><stop offset="0.268" stop-color="#fff" stop-opacity="0.63"/><stop offset="0.513" stop-color="#fff" stop-opacity="0.62"/><stop offset="0.759" stop-color="#fff" stop-opacity="0.61"/><stop offset="0.956" stop-color="#fff" stop-opacity="0.54"/><stop offset="1.000" stop-color="#fff" stop-opacity="0.13"/></linearGradient>
<path d="M-2,2.7 C-1.7,2.9 -4,1.3 0,4 C4,6.7 14.7,13.9 22.1,18.8 C29.5,23.8 36.8,28.7 44.2,33.7 C51.6,38.7 59.7,44.2 66.3,48.6 C72.9,53 80.4,58.1 84,60.4 C87.6,62.7 87.3,62.2 88,62.6" stroke="url(#g37)" stroke-width="2.6"/>
<linearGradient id="g38" gradientUnits="userSpaceOnUse" x1="88" y1="0" x2="176" y2="0"><stop offset="0.000" stop-color="#fff" stop-opacity="0.14"/><stop offset="0.041" stop-color="#fff" stop-opacity="0.51"/><stop offset="0.256" stop-color="#fff" stop-opacity="0.60"/><stop offset="0.489" stop-color="#fff" stop-opacity="0.60"/><stop offset="0.759" stop-color="#fff" stop-opacity="0.60"/><stop offset="1.000" stop-color="#fff" stop-opacity="0.60"/></linearGradient>
<path d="M88,62.6 C88.6,62.1 87.8,62 91.6,59.9 C95.3,57.8 103.9,53.4 110.5,49.9 C117.1,46.4 123.6,43 131,39.1 C138.4,35.2 147.3,30.4 154.8,26.4 C162.3,22.4 172.5,17.1 176,15.2" stroke="url(#g38)" stroke-width="2.4"/>
<linearGradient id="g39" gradientUnits="userSpaceOnUse" x1="-2" y1="0" x2="82.7" y2="0"><stop offset="0.000" stop-color="#fff" stop-opacity="0.78"/><stop offset="0.030" stop-color="#fff" stop-opacity="0.74"/><stop offset="0.378" stop-color="#fff" stop-opacity="0.70"/><stop offset="0.731" stop-color="#fff" stop-opacity="0.67"/><stop offset="0.910" stop-color="#fff" stop-opacity="0.63"/><stop offset="1.000" stop-color="#fff" stop-opacity="0.59"/></linearGradient>
<path d="M-2,148.8 C-1.6,148.6 -4.8,150.4 0.5,147.4 C5.8,144.4 20.1,136.6 30,131.1 C39.9,125.6 52.4,118.8 59.9,114.6 C67.4,110.4 71.3,108 75.1,105.8 C78.9,103.6 81.4,102 82.7,101.2" stroke="url(#g39)" stroke-width="1.7"/>
<linearGradient id="g40" gradientUnits="userSpaceOnUse" x1="87" y1="0" x2="176" y2="0"><stop offset="0.000" stop-color="#fff" stop-opacity="0.37"/><stop offset="0.264" stop-color="#fff" stop-opacity="0.70"/><stop offset="0.513" stop-color="#fff" stop-opacity="0.67"/><stop offset="0.762" stop-color="#fff" stop-opacity="0.66"/><stop offset="1.000" stop-color="#fff" stop-opacity="0.64"/></linearGradient>
<path d="M87,170.5 C90.9,169.5 102.9,166.6 110.5,164.6 C118.1,162.6 125.3,160.4 132.7,158.6 C140.1,156.8 147.6,155.2 154.8,153.5 C162,151.8 172.5,149.5 176,148.7" stroke="url(#g40)" stroke-width="2.3"/>
<linearGradient id="g41" gradientUnits="userSpaceOnUse" x1="87" y1="0" x2="176" y2="0"><stop offset="0.000" stop-color="#fff" stop-opacity="0.34"/><stop offset="0.264" stop-color="#fff" stop-opacity="0.70"/><stop offset="0.475" stop-color="#fff" stop-opacity="0.76"/><stop offset="0.762" stop-color="#fff" stop-opacity="0.67"/><stop offset="1.000" stop-color="#fff" stop-opacity="0.65"/></linearGradient>
<path d="M87,170.5 C90.9,171.5 103.5,174.8 110.5,176.7 C117.5,178.6 121.9,179.6 129.3,181.8 C136.7,184 147,187.5 154.8,190 C162.6,192.5 172.5,195.7 176,196.8" stroke="url(#g41)" stroke-width="2.6"/>
<linearGradient id="g42" gradientUnits="userSpaceOnUse" x1="87" y1="0" x2="176" y2="0"><stop offset="0.000" stop-color="#fff" stop-opacity="0.37"/><stop offset="0.140" stop-color="#fff" stop-opacity="0.78"/><stop offset="0.264" stop-color="#fff" stop-opacity="0.74"/><stop offset="0.475" stop-color="#fff" stop-opacity="0.83"/><stop offset="0.762" stop-color="#fff" stop-opacity="0.46"/><stop offset="1.000" stop-color="#fff" stop-opacity="0.37"/></linearGradient>
<path d="M87,190.4 C89.1,190 95.6,188.9 99.5,188.2 C103.4,187.5 105.5,187.1 110.5,186 C115.5,184.9 121.9,183.5 129.3,181.8 C136.7,180.1 147,177.7 154.8,176 C162.6,174.3 172.5,172.6 176,171.9" stroke="url(#g42)" stroke-width="1.7"/>
<linearGradient id="g43" gradientUnits="userSpaceOnUse" x1="87" y1="0" x2="176" y2="0"><stop offset="0.000" stop-color="#fff" stop-opacity="0.37"/><stop offset="0.264" stop-color="#fff" stop-opacity="0.73"/><stop offset="0.513" stop-color="#fff" stop-opacity="0.76"/><stop offset="0.762" stop-color="#fff" stop-opacity="0.79"/><stop offset="1.000" stop-color="#fff" stop-opacity="0.79"/></linearGradient>
<path d="M87,190.8 C90.9,191.8 102.9,194.7 110.5,196.6 C118.1,198.5 125.3,200.2 132.7,202.1 C140.1,203.9 147.6,205.9 154.8,207.7 C162,209.4 172.5,211.8 176,212.6" stroke="url(#g43)" stroke-width="2.3"/>
<ellipse cx="88" cy="63.4" rx="3" ry="1.3" fill="#fff" fill-opacity="0.20" stroke="none"/>
</g>
<g filter="url(#b07)" fill="none" stroke-linecap="round" stroke-linejoin="round">
<rect x="-20" y="-20" width="214" height="253" fill="none" stroke="none"/>
<linearGradient id="g44" gradientUnits="userSpaceOnUse" x1="-2" y1="0" x2="57.3" y2="0"><stop offset="0.000" stop-color="#fff" stop-opacity="0.42"/><stop offset="0.034" stop-color="#fff" stop-opacity="0.48"/><stop offset="0.406" stop-color="#fff" stop-opacity="0.53"/><stop offset="0.658" stop-color="#fff" stop-opacity="0.59"/><stop offset="0.872" stop-color="#fff" stop-opacity="0.65"/><stop offset="1.000" stop-color="#fff" stop-opacity="0.70"/></linearGradient>
<path d="M-2,42.7 C-1.7,42.9 -4,41.5 0,43.8 C4,46.1 15.9,52.6 22.1,56.5 C28.3,60.4 32.4,63.8 37,66.9 C41.6,70 46.3,73 49.7,75.2 C53.1,77.4 56,79.5 57.3,80.3" stroke="url(#g44)" stroke-width="0.9"/>
<linearGradient id="g45" gradientUnits="userSpaceOnUse" x1="57.3" y1="0" x2="123.4" y2="0"><stop offset="0.000" stop-color="#fff" stop-opacity="0.73"/><stop offset="0.174" stop-color="#fff" stop-opacity="0.66"/><stop offset="0.327" stop-color="#fff" stop-opacity="0.73"/><stop offset="0.461" stop-color="#fff" stop-opacity="0.84"/><stop offset="0.596" stop-color="#fff" stop-opacity="0.73"/><stop offset="0.750" stop-color="#fff" stop-opacity="0.66"/><stop offset="0.885" stop-color="#fff" stop-opacity="0.66"/><stop offset="1.000" stop-color="#fff" stop-opacity="0.73"/></linearGradient>
<path d="M57.3,80.3 C59.2,81.6 65.2,85.7 68.8,87.9 C72.4,90.1 75.7,92.3 78.9,93.6 C82.1,94.9 84.8,95.5 87.8,95.5 C90.8,95.5 93.5,94.8 96.7,93.6 C99.9,92.4 103.7,90.1 106.9,88.5 C110.1,86.9 113,85.5 115.8,84.1 C118.5,82.7 122.1,80.9 123.4,80.3" stroke="url(#g45)" stroke-width="1.2"/>
<linearGradient id="g46" gradientUnits="userSpaceOnUse" x1="123.4" y1="0" x2="176" y2="0"><stop offset="0.000" stop-color="#fff" stop-opacity="0.66"/><stop offset="0.259" stop-color="#fff" stop-opacity="0.56"/><stop offset="0.597" stop-color="#fff" stop-opacity="0.47"/><stop offset="1.000" stop-color="#fff" stop-opacity="0.38"/></linearGradient>
<path d="M123.4,80.3 C125.7,79.1 131.8,75.9 137,73.3 C142.2,70.7 148.3,67.7 154.8,64.8 C161.3,61.9 172.5,57.3 176,55.8" stroke="url(#g46)" stroke-width="0.9"/>
<linearGradient id="g47" gradientUnits="userSpaceOnUse" x1="92.9" y1="0" x2="176" y2="0"><stop offset="0.000" stop-color="#fff" stop-opacity="0.47"/><stop offset="0.091" stop-color="#fff" stop-opacity="0.51"/><stop offset="0.244" stop-color="#fff" stop-opacity="0.56"/><stop offset="0.397" stop-color="#fff" stop-opacity="0.60"/><stop offset="0.531" stop-color="#fff" stop-opacity="0.64"/><stop offset="0.745" stop-color="#fff" stop-opacity="0.68"/><stop offset="1.000" stop-color="#fff" stop-opacity="0.73"/></linearGradient>
<path d="M92.9,100.6 C94.2,101.1 97.1,102.3 100.5,103.8 C103.9,105.3 109,107.5 113.2,109.5 C117.4,111.5 121.9,113.9 125.9,115.8 C129.9,117.7 132.2,118.5 137,120.9 C141.8,123.3 148.3,126.8 154.8,130 C161.3,133.2 172.5,138.3 176,140" stroke="url(#g47)" stroke-width="1"/>
<path d="M163.6,207.7 L176,201" stroke="#fff" stroke-opacity="0.75" stroke-width="1"/>
<ellipse cx="57.3" cy="80.3" rx="1.9" ry="1.1" fill="#fff" fill-opacity="0.85" stroke="none"/>
<ellipse cx="123.4" cy="80.3" rx="1.9" ry="1.1" fill="#fff" fill-opacity="0.85" stroke="none"/>
<ellipse cx="129.6" cy="181.8" rx="2.4" ry="1.1" fill="#fff" fill-opacity="0.80" stroke="none"/>
<ellipse cx="158.1" cy="208.3" rx="1.6" ry="0.9" fill="#fff" fill-opacity="0.60" stroke="none"/>
</g>
<g fill="none" stroke-linecap="round" stroke-linejoin="round">
<rect x="-20" y="-20" width="214" height="253" fill="none" stroke="none"/>
<path d="M0,118H87M0,120H87M0,122H87M0,124H87M0,126H87M0,128H87M0,130H87M0,132H87M0,134H87M0,136H87M0,138H87M0,140H87M0,142H87M0,144H87M0,146H87M0,148H87M0,150H87M0,152H87M0,154H87M0,156H87M0,158H87M0,160H87M0,162H87M0,164H87M0,166H87M0,168H87M0,170H87M0,172H87M0,174H87M0,176H87M0,178H87M0,180H87M0,182H87M0,184H87M0,186H87M0,188H87M0,190H87M0,192H87M0,194H87M0,196H87M0,198H87M0,200H87M0,202H87M0,204H87M0,206H87M0,208H87M0,210H87M0,212H87" stroke="#fff" stroke-opacity="0.03" stroke-width="0.8" stroke-linecap="butt"/>
<path d="M87,150H174M87,152H174M87,154H174" stroke="#fff" stroke-opacity="0.03" stroke-width="0.8" stroke-linecap="butt"/>
<path d="M87,178H174M87,180H174M87,182H174M87,184H174M87,186H174M87,188H174" stroke="#fff" stroke-opacity="0.03" stroke-width="0.8" stroke-linecap="butt"/>
</g>
</g></svg>
<rect x="726.6" y="415.5" width="18" height="213.2" fill="url(#cb)" stroke="#262626" stroke-opacity="0.55" stroke-width="0.5"/>
<path d="M744.6,628.4 h-1.8" stroke="#262626" stroke-width="0.6"/>
<text x="749.6" y="633.7" font-size="14.1">0</text>
<path d="M744.6,585.8 h-1.8" stroke="#262626" stroke-width="0.6"/>
<text x="749.6" y="591.1" font-size="14.1">10</text>
<path d="M744.6,543.2 h-1.8" stroke="#262626" stroke-width="0.6"/>
<text x="749.6" y="548.5" font-size="14.1">20</text>
<path d="M744.6,500.6 h-1.8" stroke="#262626" stroke-width="0.6"/>
<text x="749.6" y="505.9" font-size="14.1">30</text>
<path d="M744.6,458 h-1.8" stroke="#262626" stroke-width="0.6"/>
<text x="749.6" y="463.3" font-size="14.1">40</text>
<path d="M744.6,415.4 h-1.8" stroke="#262626" stroke-width="0.6"/>
<text x="749.6" y="420.7" font-size="14.1">50</text>
<text x="781.7" y="526.6" font-size="15.8" text-anchor="middle" transform="rotate(-90 781.7 526.6)">Reflection (%)</text>
<text x="532.4" y="618.5" font-size="14.1" text-anchor="end">500</text>
<text x="532.4" y="580.4" font-size="14.1" text-anchor="end">550</text>
<text x="532.4" y="542.4" font-size="14.1" text-anchor="end">600</text>
<text x="532.4" y="504.4" font-size="14.1" text-anchor="end">650</text>
<text x="532.4" y="466.3" font-size="14.1" text-anchor="end">700</text>
<text x="532.4" y="428.3" font-size="14.1" text-anchor="end">750</text>
<text x="537" y="645.1" font-size="14.1" text-anchor="middle">-15</text>
<text x="566" y="645.1" font-size="14.1" text-anchor="middle">-10</text>
<text x="595" y="645.1" font-size="14.1" text-anchor="middle">-5</text>
<text x="624" y="645.1" font-size="14.1" text-anchor="middle">0</text>
<text x="653" y="645.1" font-size="14.1" text-anchor="middle">5</text>
<text x="682" y="645.1" font-size="14.1" text-anchor="middle">10</text>
<text x="711" y="645.1" font-size="14.1" text-anchor="middle">15</text>
<text x="626.8" y="673.1" font-size="15.8" text-anchor="middle">Incident angle, <tspan class="it">&#952;</tspan> (&#176;)</text>
<text x="494.7" y="526.7" font-size="15.8" text-anchor="middle" transform="rotate(-90 494.7 526.7)">Wavelength, <tspan class="it">&#955;</tspan> (nm)</text>
<text x="634.8" y="382.7" font-size="15.9" text-anchor="middle">Experiment Result</text>
<text x="627.5" y="406.7" font-size="14.1" text-anchor="middle">X - &#915; - M</text>
<text x="461.3" y="356.9" font-size="16" fill="#000">(d)</text>
<svg x="68" y="760" width="174" height="213" viewBox="0 0 174 213" overflow="hidden">
<g filter="url(#jet)">
<rect x="-5" y="-5" width="184" height="223" fill="rgb(20,20,20)"/>
<g filter="url(#b8)" fill="none" stroke-linecap="round" stroke-linejoin="round">
<rect x="-20" y="-20" width="214" height="253" fill="none" stroke="none"/>
<path d="M40,-10 L150,-10 L110,45 L86,52 L60,30z" fill="#000" fill-opacity="0.55" stroke="none"/>
<path d="M110,60 L180,30 L180,60 L125,84z" fill="#000" fill-opacity="0.50" stroke="none"/>
<path d="M60,205 L180,198 L180,220 L60,220z" fill="#fff" fill-opacity="0.04" stroke="none"/>
</g>
<g filter="url(#b4)" fill="none" stroke-linecap="round" stroke-linejoin="round">
<rect x="-20" y="-20" width="214" height="253" fill="none" stroke="none"/>
<path d="M0,40 L60,66 L40,80 L0,60z" fill="#000" fill-opacity="0.30" stroke="none"/>
<path d="M60,92 L100,84 L120,96 L100,108 L70,106z" fill="#000" fill-opacity="0.35" stroke="none"/>
<path d="M95,148 L150,172 L176,178 L100,172z" fill="#000" fill-opacity="0.40" stroke="none"/>
<path d="M40,178 L80,150 L84,176 L50,200z" fill="#000" fill-opacity="0.30" stroke="none"/>
<path d="M-5,200 L30,216 L-5,216z" fill="#fff" fill-opacity="0.08" stroke="none"/>
</g>
<g filter="url(#b4)" fill="none" stroke-linecap="round" stroke-linejoin="round">
<rect x="-20" y="-20" width="214" height="253" fill="none" stroke="none"/>
<path d="M-2,29.5 C-1.7,29.6 -2.2,29.5 0,30.3 C2.2,31.1 7.6,33 11.4,34.5 C15.2,36 19.1,37.5 22.9,39.1 C26.7,40.7 30.5,42.3 34.3,44 C38.1,45.7 41.9,47.4 45.7,49.1 C49.5,50.8 53.4,52.5 57.2,54.1 C61,55.7 65.2,57.4 68.6,58.7 C72,60 75.4,61.3 77.8,62 C80.2,62.7 82.1,62.8 83,62.9" stroke="#fff" stroke-opacity="0.16" stroke-width="8"/>
<path d="M86,61 C86.4,60.8 87,60.5 88.6,59.5 C90.2,58.5 92.4,57.1 95.4,54.9 C98.5,52.7 103.1,49.2 106.9,46.3 C110.7,43.3 114.5,40.2 118.3,37.2 C122.1,34.2 125.9,31 129.7,28 C133.5,25 137.4,22.2 141.2,19.4 C145,16.5 148.8,13.6 152.6,10.9 C156.4,8.2 160.9,5.5 164.1,3.4 C167.3,1.3 170.7,-0.7 172,-1.5" stroke="#fff" stroke-opacity="0.16" stroke-width="7"/>
<path d="M-2,110 C-1.7,109.7 -1.3,109.2 0,108.3 C1.3,107.3 3.8,105.5 5.7,104.3 C7.6,103.1 9.3,102 11.4,100.9 C13.5,99.9 16.1,98.7 18.3,98 C20.5,97.3 22.3,97.1 24.6,96.5 C26.9,95.9 29.6,95.4 32,94.6 C34.4,93.8 36.8,92.7 38.9,91.7 C41,90.7 42.5,89.8 44.6,88.7 C46.7,87.6 48.5,86.5 51.5,84.9 C54.5,83.3 59.1,80.8 62.9,79.1 C66.7,77.4 70.8,75.7 74.3,74.6 C77.8,73.5 80.5,72.3 84,72.6 C87.5,72.9 91.6,74.7 95.4,76.5 C99.2,78.3 103.5,81.5 106.9,83.5 C110.3,85.5 113.3,87.4 116,88.6 C118.7,89.8 120.6,89.9 122.9,90.5 C125.2,91.1 128,91.8 129.7,92.1 C131.4,92.4 132.6,92.1 133.2,92.1" stroke="#fff" stroke-opacity="0.16" stroke-width="8"/>
<path d="M124,99.4 C125,99.5 127.8,99.2 129.7,99.9 C131.6,100.6 133.6,102 135.5,103.3 C137.4,104.6 138.3,105.8 141.2,107.9 C144,110 148.8,113.3 152.6,115.9 C156.4,118.5 160.2,121 164.1,123.3 C168,125.6 174,128.7 176,129.8" stroke="#fff" stroke-opacity="0.12" stroke-width="6"/>
<path d="M88,134.9 C89.2,134.6 92.2,133.5 95.4,133 C98.6,132.5 103.1,132 106.9,131.7 C110.7,131.4 114.5,131.1 118.3,131 C122.1,130.9 125.9,130.9 129.7,131 C133.5,131.1 137.4,131.4 141.2,131.7 C145,132 148.8,132.5 152.6,133 C156.4,133.5 160.2,134 164.1,134.7 C168,135.4 174,136.8 176,137.2" stroke="#fff" stroke-opacity="0.14" stroke-width="6"/>
</g>
<g filter="url(#b25)" fill="none" stroke-linecap="round" stroke-linejoin="round">
<rect x="-20" y="-20" width="214" height="253" fill="none" stroke="none"/>
<path d="M-2,18.5 C-1.7,18.6 -2.2,18.4 0,19.4 C2.2,20.4 7.6,22.9 11.4,24.6 C15.2,26.4 19.1,28.1 22.9,29.9 C26.7,31.7 30.5,33.5 34.3,35.3 C38.1,37.1 41.9,38.9 45.7,40.7 C49.5,42.5 53.4,44.3 57.2,46.1 C61,47.9 64.8,49.7 68.6,51.5 C72.4,53.3 77.2,55.6 80,56.9 C82.8,58.2 84.6,58.9 85.5,59.3" stroke="#fff" stroke-opacity="0.10" stroke-width="4"/>
<path d="M-2,53.8 C-1.7,54.1 -2.2,53.6 0,55.5 C2.2,57.4 7.6,62.1 11.4,65.2 C15.2,68.3 20,72.1 22.9,74.3 C25.8,76.5 26.1,76.8 28.6,78.6 C31.1,80.4 35,83.2 37.7,84.9 C40.4,86.6 42.3,87.2 44.6,88.5 C46.9,89.8 49.4,91.2 51.5,92.4 C53.6,93.6 54.4,94.1 57.2,95.8 C60.1,97.5 64.8,100.4 68.6,102.5 C72.4,104.6 77.2,106.9 80,108.2 C82.8,109.5 84.3,110 85.2,110.3" stroke="#fff" stroke-opacity="0.08" stroke-width="4"/>
<path d="M-2,202 C-1.7,201.8 -2.2,202.2 0,200.5 C2.2,198.8 7.6,194.8 11.4,191.9 C15.2,189 19.1,185.9 22.9,182.8 C26.7,179.8 30.5,176.6 34.3,173.6 C38.1,170.6 42.1,167.3 45.7,164.6 C49.3,161.9 52.2,160 56,157.2 C59.8,154.3 64.6,150.6 68.6,147.5 C72.6,144.4 77.3,140.4 80,138.4 C82.7,136.4 83.3,136.2 84.6,135.6 C85.9,135 87.4,135 88,134.9" stroke="#fff" stroke-opacity="0.08" stroke-width="4"/>
<path d="M88,176 C89.2,176.1 92.2,176.4 95.4,176.5 C98.6,176.6 103.1,176.6 106.9,176.7 C110.7,176.8 114.5,176.9 118.3,177.1 C122.1,177.2 125.9,177.4 129.7,177.6 C133.5,177.8 137.4,178.2 141.2,178.5 C145,178.8 148.8,179.2 152.6,179.7 C156.4,180.2 160.2,180.7 164.1,181.3 C168,181.9 174,183.1 176,183.5" stroke="#fff" stroke-opacity="0.08" stroke-width="4"/>
<linearGradient id="g48" gradientUnits="userSpaceOnUse" x1="44.6" y1="0" x2="133.2" y2="0"><stop offset="0.000" stop-color="#fff" stop-opacity="0.76"/><stop offset="0.078" stop-color="#fff" stop-opacity="0.76"/><stop offset="0.207" stop-color="#fff" stop-opacity="0.76"/><stop offset="0.335" stop-color="#fff" stop-opacity="0.76"/><stop offset="0.445" stop-color="#fff" stop-opacity="0.76"/><stop offset="0.573" stop-color="#fff" stop-opacity="0.73"/><stop offset="0.703" stop-color="#fff" stop-opacity="0.71"/><stop offset="0.806" stop-color="#fff" stop-opacity="0.68"/><stop offset="0.884" stop-color="#fff" stop-opacity="0.65"/><stop offset="0.960" stop-color="#fff" stop-opacity="0.65"/><stop offset="1.000" stop-color="#fff" stop-opacity="0.65"/></linearGradient>
<path d="M44.6,88.7 C45.8,88.1 48.5,86.5 51.5,84.9 C54.5,83.3 59.1,80.8 62.9,79.1 C66.7,77.4 70.8,75.7 74.3,74.6 C77.8,73.5 80.5,72.3 84,72.6 C87.5,72.9 91.6,74.7 95.4,76.5 C99.2,78.3 103.5,81.5 106.9,83.5 C110.3,85.5 113.3,87.4 116,88.6 C118.7,89.8 120.6,89.9 122.9,90.5 C125.2,91.1 128,91.8 129.7,92.1 C131.4,92.4 132.6,92.1 133.2,92.1" stroke="url(#g48)" stroke-width="4.8"/>
</g>
<g filter="url(#b15)" fill="none" stroke-linecap="round" stroke-linejoin="round">
<rect x="-20" y="-20" width="214" height="253" fill="none" stroke="none"/>
<linearGradient id="g49" gradientUnits="userSpaceOnUse" x1="-2" y1="0" x2="83" y2="0"><stop offset="0.000" stop-color="#fff" stop-opacity="0.63"/><stop offset="0.024" stop-color="#fff" stop-opacity="0.64"/><stop offset="0.158" stop-color="#fff" stop-opacity="0.64"/><stop offset="0.293" stop-color="#fff" stop-opacity="0.65"/><stop offset="0.427" stop-color="#fff" stop-opacity="0.65"/><stop offset="0.561" stop-color="#fff" stop-opacity="0.66"/><stop offset="0.696" stop-color="#fff" stop-opacity="0.67"/><stop offset="0.831" stop-color="#fff" stop-opacity="0.67"/><stop offset="0.939" stop-color="#fff" stop-opacity="0.68"/><stop offset="1.000" stop-color="#fff" stop-opacity="0.68"/></linearGradient>
<path d="M-2,29.5 C-1.7,29.6 -2.2,29.5 0,30.3 C2.2,31.1 7.6,33 11.4,34.5 C15.2,36 19.1,37.5 22.9,39.1 C26.7,40.7 30.5,42.3 34.3,44 C38.1,45.7 41.9,47.4 45.7,49.1 C49.5,50.8 53.4,52.5 57.2,54.1 C61,55.7 65.2,57.4 68.6,58.7 C72,60 75.4,61.3 77.8,62 C80.2,62.7 82.1,62.8 83,62.9" stroke="url(#g49)" stroke-width="3.6"/>
<linearGradient id="g50" gradientUnits="userSpaceOnUse" x1="-2" y1="0" x2="44.6" y2="0"><stop offset="0.000" stop-color="#fff" stop-opacity="0.79"/><stop offset="0.043" stop-color="#fff" stop-opacity="0.79"/><stop offset="0.165" stop-color="#fff" stop-opacity="0.74"/><stop offset="0.288" stop-color="#fff" stop-opacity="0.71"/><stop offset="0.436" stop-color="#fff" stop-opacity="0.74"/><stop offset="0.571" stop-color="#fff" stop-opacity="0.76"/><stop offset="0.730" stop-color="#fff" stop-opacity="0.74"/><stop offset="0.878" stop-color="#fff" stop-opacity="0.71"/><stop offset="1.000" stop-color="#fff" stop-opacity="0.74"/></linearGradient>
<path d="M-2,110 C-1.7,109.7 -1.3,109.2 0,108.3 C1.3,107.3 3.8,105.5 5.7,104.3 C7.6,103.1 9.3,102 11.4,100.9 C13.5,99.9 16.1,98.7 18.3,98 C20.5,97.3 22.3,97.1 24.6,96.5 C26.9,95.9 29.6,95.4 32,94.6 C34.4,93.8 36.8,92.7 38.9,91.7 C41,90.7 43.6,89.2 44.6,88.7" stroke="url(#g50)" stroke-width="3.2"/>
<linearGradient id="g51" gradientUnits="userSpaceOnUse" x1="-2" y1="0" x2="25.2" y2="0"><stop offset="0.000" stop-color="#fff" stop-opacity="0.77"/><stop offset="0.074" stop-color="#fff" stop-opacity="0.75"/><stop offset="0.283" stop-color="#fff" stop-opacity="0.72"/><stop offset="0.493" stop-color="#fff" stop-opacity="0.70"/><stop offset="0.746" stop-color="#fff" stop-opacity="0.67"/><stop offset="1.000" stop-color="#fff" stop-opacity="0.65"/></linearGradient>
<path d="M-2,111.5 C-1.7,111.2 -1.3,110.8 0,110 C1.3,109.2 3.8,107.5 5.7,106.6 C7.6,105.6 9.3,105 11.4,104.3 C13.5,103.6 16,102.9 18.3,102.6 C20.6,102.3 24.1,102.6 25.2,102.6" stroke="url(#g51)" stroke-width="2.6"/>
<linearGradient id="g52" gradientUnits="userSpaceOnUse" x1="86" y1="0" x2="172" y2="0"><stop offset="0.000" stop-color="#fff" stop-opacity="0.91"/><stop offset="0.030" stop-color="#fff" stop-opacity="0.94"/><stop offset="0.109" stop-color="#fff" stop-opacity="0.97"/><stop offset="0.243" stop-color="#fff" stop-opacity="1.00"/><stop offset="0.376" stop-color="#fff" stop-opacity="1.00"/><stop offset="0.508" stop-color="#fff" stop-opacity="1.00"/><stop offset="0.642" stop-color="#fff" stop-opacity="1.00"/><stop offset="0.774" stop-color="#fff" stop-opacity="1.00"/><stop offset="0.908" stop-color="#fff" stop-opacity="1.00"/><stop offset="1.000" stop-color="#fff" stop-opacity="1.00"/></linearGradient>
<path d="M86,61 C86.4,60.8 87,60.5 88.6,59.5 C90.2,58.5 92.4,57.1 95.4,54.9 C98.5,52.7 103.1,49.2 106.9,46.3 C110.7,43.3 114.5,40.2 118.3,37.2 C122.1,34.2 125.9,31 129.7,28 C133.5,25 137.4,22.2 141.2,19.4 C145,16.5 148.8,13.6 152.6,10.9 C156.4,8.2 160.9,5.5 164.1,3.4 C167.3,1.3 170.7,-0.7 172,-1.5" stroke="url(#g52)" stroke-width="3.8"/>
<path d="M135.5,103.3 C136.4,104.1 138.3,105.8 141.2,107.9 C144,110 148.8,113.3 152.6,115.9 C156.4,118.5 160.2,121 164.1,123.3 C168,125.6 174,128.7 176,129.8" stroke="#fff" stroke-opacity="0.66" stroke-width="3.2"/>
<linearGradient id="g53" gradientUnits="userSpaceOnUse" x1="88" y1="0" x2="176" y2="0"><stop offset="0.000" stop-color="#fff" stop-opacity="0.61"/><stop offset="0.084" stop-color="#fff" stop-opacity="0.61"/><stop offset="0.215" stop-color="#fff" stop-opacity="0.66"/><stop offset="0.344" stop-color="#fff" stop-opacity="0.74"/><stop offset="0.474" stop-color="#fff" stop-opacity="0.79"/><stop offset="0.605" stop-color="#fff" stop-opacity="0.89"/><stop offset="0.734" stop-color="#fff" stop-opacity="1.00"/><stop offset="0.865" stop-color="#fff" stop-opacity="1.00"/><stop offset="1.000" stop-color="#fff" stop-opacity="1.00"/></linearGradient>
<path d="M88,134.9 C89.2,134.6 92.2,133.5 95.4,133 C98.6,132.5 103.1,132 106.9,131.7 C110.7,131.4 114.5,131.1 118.3,131 C122.1,130.9 125.9,130.9 129.7,131 C133.5,131.1 137.4,131.4 141.2,131.7 C145,132 148.8,132.5 152.6,133 C156.4,133.5 160.2,134 164.1,134.7 C168,135.4 174,136.8 176,137.2" stroke="url(#g53)" stroke-width="3.2"/>
</g>
<g filter="url(#b1)" fill="none" stroke-linecap="round" stroke-linejoin="round">
<rect x="-20" y="-20" width="214" height="253" fill="none" stroke="none"/>
<path d="M-2,18.5 C-1.7,18.6 -2.2,18.4 0,19.4 C2.2,20.4 7.6,22.9 11.4,24.6 C15.2,26.4 19.1,28.1 22.9,29.9 C26.7,31.7 30.5,33.5 34.3,35.3 C38.1,37.1 41.9,38.9 45.7,40.7 C49.5,42.5 53.4,44.3 57.2,46.1 C61,47.9 64.8,49.7 68.6,51.5 C72.4,53.3 77.2,55.6 80,56.9 C82.8,58.2 84.6,58.9 85.5,59.3" stroke="#fff" stroke-opacity="0.79" stroke-width="2"/>
<linearGradient id="g54" gradientUnits="userSpaceOnUse" x1="18.3" y1="0" x2="83" y2="0"><stop offset="0.000" stop-color="#fff" stop-opacity="0.58"/><stop offset="0.124" stop-color="#fff" stop-opacity="0.66"/><stop offset="0.230" stop-color="#fff" stop-opacity="0.67"/><stop offset="0.300" stop-color="#fff" stop-opacity="0.70"/><stop offset="0.423" stop-color="#fff" stop-opacity="0.70"/><stop offset="0.601" stop-color="#fff" stop-opacity="0.73"/><stop offset="0.777" stop-color="#fff" stop-opacity="0.76"/><stop offset="0.920" stop-color="#fff" stop-opacity="0.80"/><stop offset="1.000" stop-color="#fff" stop-opacity="0.97"/></linearGradient>
<path d="M18.3,87.7 C19.6,87.8 23.8,88.3 26.3,88.1 C28.8,87.9 31.3,87.2 33.2,86.6 C35.1,86 35.6,85.5 37.7,84.5 C39.8,83.5 42.5,82 45.7,80.3 C49,78.6 53.4,76.4 57.2,74.4 C61,72.4 65.2,70.2 68.6,68.4 C72,66.6 75.4,64.6 77.8,63.6 C80.2,62.6 82.1,62.4 83,62.2" stroke="url(#g54)" stroke-width="2"/>
<path d="M112.6,97.4 C113.5,97.1 116.6,96.1 118.3,95.7 C120,95.3 121,95 122.9,95.3 C124.8,95.6 128.6,97 129.7,97.3" stroke="#fff" stroke-opacity="0.63" stroke-width="2.2"/>
<linearGradient id="g55" gradientUnits="userSpaceOnUse" x1="77" y1="0" x2="176" y2="0"><stop offset="0.000" stop-color="#fff" stop-opacity="0.61"/><stop offset="0.071" stop-color="#fff" stop-opacity="0.61"/><stop offset="0.186" stop-color="#fff" stop-opacity="0.61"/><stop offset="0.302" stop-color="#fff" stop-opacity="0.63"/><stop offset="0.417" stop-color="#fff" stop-opacity="0.68"/><stop offset="0.475" stop-color="#fff" stop-opacity="0.82"/><stop offset="0.532" stop-color="#fff" stop-opacity="0.76"/><stop offset="0.591" stop-color="#fff" stop-opacity="0.76"/><stop offset="0.648" stop-color="#fff" stop-opacity="0.78"/><stop offset="0.764" stop-color="#fff" stop-opacity="0.78"/><stop offset="0.880" stop-color="#fff" stop-opacity="0.78"/><stop offset="1.000" stop-color="#fff" stop-opacity="0.78"/></linearGradient>
<path d="M77,116 C78.2,115.6 80.9,114.2 84,113.6 C87.1,113 91.6,113.4 95.4,112.4 C99.2,111.5 103.1,109.6 106.9,107.9 C110.7,106.2 115.5,103.6 118.3,102.2 C121.1,100.8 122.1,99.8 124,99.4 C125.9,99 127.8,99.2 129.7,99.9 C131.6,100.6 133.6,102 135.5,103.3 C137.4,104.6 138.3,105.8 141.2,107.9 C144,110 148.8,113.3 152.6,115.9 C156.4,118.5 160.2,121 164.1,123.3 C168,125.6 174,128.7 176,129.8" stroke="url(#g55)" stroke-width="2.2"/>
<linearGradient id="g56" gradientUnits="userSpaceOnUse" x1="88" y1="0" x2="176" y2="0"><stop offset="0.000" stop-color="#fff" stop-opacity="0.70"/><stop offset="0.084" stop-color="#fff" stop-opacity="0.71"/><stop offset="0.215" stop-color="#fff" stop-opacity="0.71"/><stop offset="0.344" stop-color="#fff" stop-opacity="0.71"/><stop offset="0.474" stop-color="#fff" stop-opacity="0.72"/><stop offset="0.605" stop-color="#fff" stop-opacity="0.72"/><stop offset="0.734" stop-color="#fff" stop-opacity="0.72"/><stop offset="0.865" stop-color="#fff" stop-opacity="0.73"/><stop offset="1.000" stop-color="#fff" stop-opacity="0.73"/></linearGradient>
<path d="M88,176 C89.2,176.1 92.2,176.4 95.4,176.5 C98.6,176.6 103.1,176.6 106.9,176.7 C110.7,176.8 114.5,176.9 118.3,177.1 C122.1,177.2 125.9,177.4 129.7,177.6 C133.5,177.8 137.4,178.2 141.2,178.5 C145,178.8 148.8,179.2 152.6,179.7 C156.4,180.2 160.2,180.7 164.1,181.3 C168,181.9 174,183.1 176,183.5" stroke="url(#g56)" stroke-width="2"/>
<ellipse cx="24.6" cy="96.5" rx="3.2" ry="1.2" fill="#fff" fill-opacity="0.45" stroke="none" transform="rotate(8 24.6 96.5)"/>
<ellipse cx="86" cy="60.7" rx="2.6" ry="1.2" fill="#fff" fill-opacity="0.40" stroke="none" transform="rotate(-25 86 60.7)"/>
</g>
<g filter="url(#b07)" fill="none" stroke-linecap="round" stroke-linejoin="round">
<rect x="-20" y="-20" width="214" height="253" fill="none" stroke="none"/>
<path d="M-2,53.8 C-1.7,54.1 -2.2,53.6 0,55.5 C2.2,57.4 7.6,62.1 11.4,65.2 C15.2,68.3 20,72.1 22.9,74.3 C25.8,76.5 26.1,76.8 28.6,78.6 C31.1,80.4 35,83.2 37.7,84.9 C40.4,86.6 43.5,87.9 44.6,88.5" stroke="#fff" stroke-opacity="0.59" stroke-width="1.7"/>
<linearGradient id="g57" gradientUnits="userSpaceOnUse" x1="44.6" y1="0" x2="85.2" y2="0"><stop offset="0.000" stop-color="#fff" stop-opacity="0.89"/><stop offset="0.170" stop-color="#fff" stop-opacity="0.76"/><stop offset="0.310" stop-color="#fff" stop-opacity="0.71"/><stop offset="0.591" stop-color="#fff" stop-opacity="0.63"/><stop offset="0.872" stop-color="#fff" stop-opacity="0.58"/><stop offset="1.000" stop-color="#fff" stop-opacity="0.53"/></linearGradient>
<path d="M44.6,88.5 C45.8,89.2 49.4,91.2 51.5,92.4 C53.6,93.6 54.4,94.1 57.2,95.8 C60.1,97.5 64.8,100.4 68.6,102.5 C72.4,104.6 77.2,106.9 80,108.2 C82.8,109.5 84.3,110 85.2,110.3" stroke="url(#g57)" stroke-width="1.6"/>
<linearGradient id="g58" gradientUnits="userSpaceOnUse" x1="-2" y1="0" x2="18.3" y2="0"><stop offset="0.000" stop-color="#fff" stop-opacity="0.59"/><stop offset="0.099" stop-color="#fff" stop-opacity="0.65"/><stop offset="0.547" stop-color="#fff" stop-opacity="0.70"/><stop offset="1.000" stop-color="#fff" stop-opacity="0.76"/></linearGradient>
<path d="M-2,80.6 C-1.7,80.7 -1.8,80.7 0,81.4 C1.8,82.1 6,83.9 9.1,84.9 C12.2,86 16.8,87.2 18.3,87.7" stroke="url(#g58)" stroke-width="0.9"/>
<path d="M133.2,92.1 C134.5,91.6 138,90.8 141.2,89.2 C144.4,87.6 148.8,84.6 152.6,82.3 C156.4,80 160.2,78 164.1,75.5 C168,73 174,68.8 176,67.5" stroke="#fff" stroke-opacity="0.66" stroke-width="1.2"/>
<linearGradient id="g59" gradientUnits="userSpaceOnUse" x1="-2" y1="0" x2="24.6" y2="0"><stop offset="0.000" stop-color="#fff" stop-opacity="0.59"/><stop offset="0.075" stop-color="#fff" stop-opacity="0.68"/><stop offset="0.417" stop-color="#fff" stop-opacity="0.76"/><stop offset="0.763" stop-color="#fff" stop-opacity="0.84"/><stop offset="1.000" stop-color="#fff" stop-opacity="0.93"/></linearGradient>
<path d="M-2,88.8 C-1.7,88.9 -1.8,88.8 0,89.4 C1.8,90 6,91.3 9.1,92.3 C12.2,93.3 15.7,94.5 18.3,95.2 C20.9,95.9 23.6,96.3 24.6,96.5" stroke="url(#g59)" stroke-width="0.9"/>
<path d="M24.6,96.5 C25.5,96.7 28.1,97 29.7,97.4 C31.3,97.9 31.6,97.9 34.3,99.2 C37,100.5 41.9,103.3 45.7,105.5 C49.5,107.7 54.2,110.7 57.2,112.3 C60.2,113.9 61.7,114.5 64,115.2 C66.3,115.9 68.7,116.5 70.9,116.6 C73.1,116.7 76,116.1 77,116" stroke="#fff" stroke-opacity="0.72" stroke-width="1.5"/>
<path d="M70.9,116.9 C72.4,117.1 76.8,117.6 80,118 C83.2,118.4 87.4,118.6 90,119.2 C92.6,119.8 92.6,120.3 95.4,121.6 C98.2,122.8 104,125.5 106.9,126.7 C109.8,127.9 110.7,128.4 112.6,129 C114.5,129.6 115.5,129.9 118.3,130.2 C121.1,130.4 127.8,130.4 129.7,130.5" stroke="#fff" stroke-opacity="0.63" stroke-width="0.9"/>
<path d="M25.2,102.6 C26.7,102.9 30.9,103.3 34.3,104.3 C37.7,105.2 42.8,107.2 45.7,108.3 C48.6,109.3 49.2,109.7 51.5,110.6 C53.8,111.5 57.1,112.7 59.5,113.5 C61.9,114.3 64.9,115.2 66,115.6" stroke="#fff" stroke-opacity="0.68" stroke-width="0.9"/>
<path d="M-2,117.2 C-1.7,117.3 -2.2,117 0,118 C2.2,119 7.6,121.1 11.4,123.2 C15.2,125.3 19.1,128.1 22.9,130.6 C26.7,133.1 31.4,136.5 34.3,138.4 C37.1,140.3 38.1,141.1 40,142 C41.9,142.9 43.8,143.7 45.7,144.1 C47.6,144.5 49.6,144.6 51.5,144.6 C53.4,144.6 54.4,144.4 57.2,143.8 C60.1,143.2 65.8,141.6 68.6,140.9 C71.4,140.2 73.3,140 74.3,139.8" stroke="#fff" stroke-opacity="0.63" stroke-width="0.9"/>
<path d="M-2,156.3 C-1.7,156.1 -2.2,156.4 0,155.3 C2.2,154.2 7.6,151.5 11.4,149.6 C15.2,147.7 19.1,145.8 22.9,143.9 C26.7,142.1 30.5,140.3 34.3,138.5 C38.1,136.7 41.9,134.8 45.7,132.9 C49.5,131 54,128.8 57.2,127.3 C60.5,125.8 63.3,124.5 65.2,123.8 C67.1,123.1 67.1,123 68.6,123.2 C70.1,123.4 72.4,124.1 74.3,124.9 C76.2,125.8 78,127.2 80,128.3 C82,129.4 85,130.8 86,131.3" stroke="#fff" stroke-opacity="0.67" stroke-width="1.1"/>
<linearGradient id="g60" gradientUnits="userSpaceOnUse" x1="-2" y1="0" x2="41.2" y2="0"><stop offset="0.000" stop-color="#fff" stop-opacity="0.65"/><stop offset="0.046" stop-color="#fff" stop-opacity="0.63"/><stop offset="0.310" stop-color="#fff" stop-opacity="0.61"/><stop offset="0.576" stop-color="#fff" stop-opacity="0.58"/><stop offset="0.840" stop-color="#fff" stop-opacity="0.56"/><stop offset="1.000" stop-color="#fff" stop-opacity="0.54"/></linearGradient>
<path d="M-2,172.3 C-1.7,172.1 -2.2,172.3 0,171.3 C2.2,170.3 7.6,167.9 11.4,166.2 C15.2,164.5 19.1,162.7 22.9,161 C26.7,159.3 31.2,157.1 34.3,155.9 C37.3,154.7 40.1,154 41.2,153.6" stroke="url(#g60)" stroke-width="1"/>
<linearGradient id="g61" gradientUnits="userSpaceOnUse" x1="-2" y1="0" x2="88" y2="0"><stop offset="0.000" stop-color="#fff" stop-opacity="0.61"/><stop offset="0.022" stop-color="#fff" stop-opacity="0.61"/><stop offset="0.149" stop-color="#fff" stop-opacity="0.62"/><stop offset="0.277" stop-color="#fff" stop-opacity="0.62"/><stop offset="0.403" stop-color="#fff" stop-opacity="0.63"/><stop offset="0.530" stop-color="#fff" stop-opacity="0.63"/><stop offset="0.644" stop-color="#fff" stop-opacity="0.64"/><stop offset="0.784" stop-color="#fff" stop-opacity="0.64"/><stop offset="0.911" stop-color="#fff" stop-opacity="0.65"/><stop offset="0.962" stop-color="#fff" stop-opacity="0.65"/><stop offset="1.000" stop-color="#fff" stop-opacity="0.66"/></linearGradient>
<path d="M-2,202 C-1.7,201.8 -2.2,202.2 0,200.5 C2.2,198.8 7.6,194.8 11.4,191.9 C15.2,189 19.1,185.9 22.9,182.8 C26.7,179.8 30.5,176.6 34.3,173.6 C38.1,170.6 42.1,167.3 45.7,164.6 C49.3,161.9 52.2,160 56,157.2 C59.8,154.3 64.6,150.6 68.6,147.5 C72.6,144.4 77.3,140.4 80,138.4 C82.7,136.4 83.3,136.2 84.6,135.6 C85.9,135 87.4,135 88,134.9" stroke="url(#g61)" stroke-width="1.6"/>
<path d="M48,153.6 C49.3,154.2 52.6,155.1 56,157.2 C59.4,159.2 64.6,163.1 68.6,165.9 C72.6,168.7 77.3,172.4 80,174 C82.7,175.6 83.3,175.2 84.6,175.5 C85.9,175.8 87.4,175.9 88,176" stroke="#fff" stroke-opacity="0.63" stroke-width="0.9"/>
<path d="M37.7,213 C39,212 42.5,209.3 45.7,206.8 C49,204.3 53.4,201.1 57.2,198.2 C61,195.3 64.8,192.4 68.6,189.6 C72.4,186.8 77.2,183.3 80,181.6 C82.8,179.9 84.3,179.8 85.2,179.4" stroke="#fff" stroke-opacity="0.67" stroke-width="1.1"/>
<path d="M86.5,62.5 C86.8,62.8 87.1,63 88.6,64 C90.1,65 92.4,66.4 95.4,68.6 C98.5,70.8 103.1,74.4 106.9,77.2 C110.7,80 115.6,83.4 118.3,85.2 C121,87 122.1,87.6 122.9,88.1" stroke="#fff" stroke-opacity="1.00" stroke-width="1.1"/>
<path d="M122.9,88.1 C124,87.5 126.6,86.3 129.7,84.6 C132.8,82.9 137.4,80.2 141.2,77.8 C145,75.4 148.8,72.7 152.6,70.3 C156.4,67.9 160.2,65.8 164.1,63.5 C168,61.2 174,57.5 176,56.3" stroke="#fff" stroke-opacity="0.71" stroke-width="1.1"/>
<path d="M84,109.8 C85.2,109.4 88,108.3 90.9,107.2 C93.8,106.1 97.6,104.6 101.2,103 C104.8,101.4 109.8,98.6 112.6,97.4 C115.4,96.2 117.3,96 118.3,95.7" stroke="#fff" stroke-opacity="0.51" stroke-width="0.9"/>
<path d="M129.7,97.3 C130.7,97.7 133.6,98.8 135.5,99.8 C137.4,100.8 138.3,101.6 141.2,103.6 C144,105.6 148.8,109.4 152.6,111.9 C156.4,114.4 160.2,116.7 164.1,118.7 C168,120.7 174,123.1 176,124" stroke="#fff" stroke-opacity="0.77" stroke-width="1"/>
<path d="M106.9,134.2 C108.8,135.1 114.5,138 118.3,139.9 C122.1,141.8 125.9,143.5 129.7,145.6 C133.5,147.7 137.4,150.2 141.2,152.5 C145,154.8 149.2,157.2 152.6,159.3 C156,161.4 160.3,164.1 161.8,165.1" stroke="#fff" stroke-opacity="0.46" stroke-width="0.9"/>
<path d="M87.4,138.2 C88.7,138.7 92.2,139.6 95.4,141 C98.7,142.4 103.1,144.8 106.9,146.8 C110.7,148.8 114.5,150.9 118.3,153 C122.1,155.1 125.9,157.4 129.7,159.3 C133.5,161.2 137.4,162.9 141.2,164.5 C145,166.1 148.8,167.8 152.6,169.1 C156.4,170.4 160.2,171.4 164.1,172.5 C168,173.6 174,175.1 176,175.6" stroke="#fff" stroke-opacity="0.69" stroke-width="1"/>
<linearGradient id="g62" gradientUnits="userSpaceOnUse" x1="85.2" y1="0" x2="176" y2="0"><stop offset="0.000" stop-color="#fff" stop-opacity="0.49"/><stop offset="0.176" stop-color="#fff" stop-opacity="0.53"/><stop offset="0.365" stop-color="#fff" stop-opacity="0.56"/><stop offset="0.490" stop-color="#fff" stop-opacity="0.59"/><stop offset="0.617" stop-color="#fff" stop-opacity="0.63"/><stop offset="0.742" stop-color="#fff" stop-opacity="0.66"/><stop offset="0.869" stop-color="#fff" stop-opacity="0.69"/><stop offset="1.000" stop-color="#fff" stop-opacity="0.72"/></linearGradient>
<path d="M85.2,179.4 C87.9,179.4 95.7,179.5 101.2,179.7 C106.7,179.9 113.5,180.2 118.3,180.5 C123,180.8 125.9,181.1 129.7,181.6 C133.5,182.1 137.4,182.7 141.2,183.6 C145,184.5 148.8,185.6 152.6,186.8 C156.4,188 160.2,189.3 164.1,190.8 C168,192.3 174,194.8 176,195.6" stroke="url(#g62)" stroke-width="1.2"/>
<ellipse cx="44.3" cy="88.5" rx="2.4" ry="1" fill="#fff" fill-opacity="0.80" stroke="none" transform="rotate(30 44.3 88.5)"/>
<ellipse cx="82.3" cy="62.8" rx="2.2" ry="0.8" fill="#fff" fill-opacity="0.60" stroke="none" transform="rotate(-12 82.3 62.8)"/>
<ellipse cx="122.9" cy="88.1" rx="1.8" ry="0.9" fill="#fff" fill-opacity="0.90" stroke="none" transform="rotate(35 122.9 88.1)"/>
</g>
</g></svg>
<rect x="257.9" y="760.1" width="17.5" height="213.2" fill="url(#cb)" stroke="#262626" stroke-opacity="0.55" stroke-width="0.5"/>
<path d="M275.4,960.1 h-1.8" stroke="#262626" stroke-width="0.6"/>
<text x="280.4" y="965.4" font-size="14.1">10</text>
<path d="M275.4,937.7 h-1.8" stroke="#262626" stroke-width="0.6"/>
<text x="280.4" y="943" font-size="14.1">20</text>
<path d="M275.4,915.4 h-1.8" stroke="#262626" stroke-width="0.6"/>
<text x="280.4" y="920.7" font-size="14.1">30</text>
<path d="M275.4,893.1 h-1.8" stroke="#262626" stroke-width="0.6"/>
<text x="280.4" y="898.4" font-size="14.1">40</text>
<path d="M275.4,870.7 h-1.8" stroke="#262626" stroke-width="0.6"/>
<text x="280.4" y="876" font-size="14.1">50</text>
<path d="M275.4,848.4 h-1.8" stroke="#262626" stroke-width="0.6"/>
<text x="280.4" y="853.7" font-size="14.1">60</text>
<path d="M275.4,826.1 h-1.8" stroke="#262626" stroke-width="0.6"/>
<text x="280.4" y="831.4" font-size="14.1">70</text>
<path d="M275.4,803.8 h-1.8" stroke="#262626" stroke-width="0.6"/>
<text x="280.4" y="809.1" font-size="14.1">80</text>
<path d="M275.4,781.4 h-1.8" stroke="#262626" stroke-width="0.6"/>
<text x="280.4" y="786.7" font-size="14.1">90</text>
<text x="314.7" y="871.2" font-size="15.8" text-anchor="middle" transform="rotate(-90 314.7 871.2)">Reflection (%)</text>
<text x="63.4" y="978.3" font-size="14.1" text-anchor="end">500</text>
<text x="63.4" y="907.3" font-size="14.1" text-anchor="end">550</text>
<text x="63.4" y="836.3" font-size="14.1" text-anchor="end">600</text>
<text x="63.4" y="765.3" font-size="14.1" text-anchor="end">650</text>
<text x="68" y="989.7" font-size="14.1" text-anchor="middle">-15</text>
<text x="97" y="989.7" font-size="14.1" text-anchor="middle">-10</text>
<text x="126" y="989.7" font-size="14.1" text-anchor="middle">-5</text>
<text x="155" y="989.7" font-size="14.1" text-anchor="middle">0</text>
<text x="184" y="989.7" font-size="14.1" text-anchor="middle">5</text>
<text x="213" y="989.7" font-size="14.1" text-anchor="middle">10</text>
<text x="242" y="989.7" font-size="14.1" text-anchor="middle">15</text>
<text x="157.1" y="1017.7" font-size="15.8" text-anchor="middle">Incident angle, <tspan class="it">&#952;</tspan> (&#176;)</text>
<text x="32" y="871.3" font-size="15.8" text-anchor="middle" transform="rotate(-90 32 871.3)">Wavelength, <tspan class="it">&#955;</tspan> (nm)</text>
<text x="157.5" y="727.3" font-size="15.9" text-anchor="middle">Rsoft Simulation</text>
<text x="157.2" y="751.3" font-size="14.1" text-anchor="middle">X - &#915; - M</text>
<text x="0" y="701.5" font-size="16" fill="#000">(e)</text>
<svg x="537" y="760" width="174" height="213" viewBox="0 0 174 213" overflow="hidden">
<g filter="url(#jet)">
<rect x="-5" y="-5" width="184" height="223" fill="rgb(4,4,4)"/>
<g filter="url(#b8)" fill="none" stroke-linecap="round" stroke-linejoin="round">
<rect x="-20" y="-20" width="214" height="253" fill="none" stroke="none"/>
<path d="M100,100 L190,125 L190,230 L87,230 L87,95z" fill="#fff" fill-opacity="0.05" stroke="none"/>
<path d="M87,100 L190,110 L190,230 L87,230z" fill="#fff" fill-opacity="0.07" stroke="none"/>
<path d="M130,185 L190,200 L190,230 L110,230z" fill="#fff" fill-opacity="0.06" stroke="none"/>
</g>
<g filter="url(#b4)" fill="none" stroke-linecap="round" stroke-linejoin="round">
<rect x="-20" y="-20" width="214" height="253" fill="none" stroke="none"/>
<path d="M87,128 L190,150 L190,230 L87,230z" fill="#fff" fill-opacity="0.06" stroke="none"/>
<path d="M120,96 L190,70 L190,160z" fill="#fff" fill-opacity="0.05" stroke="none"/>
<path d="M0,150 L60,150 L30,200 L0,205z" fill="#fff" fill-opacity="0.03" stroke="none"/>
</g>
<g filter="url(#b25)" fill="none" stroke-linecap="round" stroke-linejoin="round">
<rect x="-20" y="-20" width="214" height="253" fill="none" stroke="none"/>
<path d="M87,176 L150,178 L190,198 L190,230 L87,230z" fill="#fff" fill-opacity="0.17" stroke="none"/>
</g>
<g fill="none" stroke-linecap="round" stroke-linejoin="round">
<rect x="-20" y="-20" width="214" height="253" fill="none" stroke="none"/>
<path d="M-5,-5 L87,-5 L87,220 L-5,220z" fill="#000" fill-opacity="1.00" stroke="none"/>
<path d="M-5,-5 L87,-5 L87,220 L-5,220z" fill="#fff" fill-opacity="0.01" stroke="none"/>
<path d="M87,40H174M87,42H174M87,44H174M87,46H174M87,48H174M87,50H174M87,52H174M87,54H174M87,56H174M87,58H174M87,60H174M87,62H174M87,64H174M87,66H174M87,68H174M87,70H174M87,72H174M87,74H174M87,76H174M87,78H174M87,80H174M87,82H174M87,84H174M87,86H174M87,88H174M87,90H174M87,92H174M87,94H174M87,96H174M87,98H174M87,100H174M87,102H174M87,104H174M87,106H174M87,108H174M87,110H174M87,112H174M87,114H174M87,116H174M87,118H174M87,120H174M87,122H174M87,124H174M87,126H174M87,128H174M87,130H174M87,132H174M87,134H174M87,136H174M87,138H174M87,140H174M87,142H174M87,144H174M87,146H174M87,148H174M87,150H174M87,152H174M87,154H174M87,156H174M87,158H174M87,160H174M87,162H174M87,164H174M87,166H174M87,168H174M87,170H174M87,172H174M87,174H174M87,176H174M87,178H174M87,180H174M87,182H174M87,184H174M87,186H174M87,188H174M87,190H174M87,192H174M87,194H174M87,196H174M87,198H174M87,200H174M87,202H174M87,204H174M87,206H174M87,208H174M87,210H174M87,212H174" stroke="#fff" stroke-opacity="0.03" stroke-width="0.8" stroke-linecap="butt"/>
<path d="M87,126 L87,213" stroke="#000" stroke-opacity="0.50" stroke-width="0.7"/>
</g>
<g filter="url(#b4)" fill="none" stroke-linecap="round" stroke-linejoin="round">
<rect x="-20" y="-20" width="214" height="253" fill="none" stroke="none"/>
<path d="M-2,32.7 C-1.7,32.9 -2.2,32.7 0,33.7 C2.2,34.7 7.6,37.1 11.4,38.9 C15.2,40.7 19.1,42.7 22.9,44.6 C26.7,46.5 30.5,48.4 34.3,50.4 C38.1,52.4 41.9,54.4 45.7,56.4 C49.5,58.4 53.4,60.3 57.2,62.2 C61,64.1 64.8,66.1 68.6,68 C72.4,69.9 77.1,72.2 80,73.6 C82.9,75 85,75.8 86,76.2" stroke="#fff" stroke-opacity="0.16" stroke-width="8"/>
<path d="M86.3,74.3 C87.8,73 92,69.1 95.4,66.3 C98.8,63.4 103.1,60.4 106.9,57.2 C110.7,54.1 114.5,50.6 118.3,47.4 C122.1,44.1 125.9,40.9 129.7,37.7 C133.5,34.5 137.4,31.3 141.2,28.2 C145,25.1 148.8,22 152.6,18.9 C156.4,15.8 160.2,12.8 164.1,9.7 C168,6.5 174,1.6 176,0" stroke="#fff" stroke-opacity="0.18" stroke-width="8"/>
<path d="M86.3,77.8 C87.8,79.1 92,83.2 95.4,85.8 C98.8,88.4 104,91.6 106.9,93.5 C109.8,95.4 111,95.9 112.6,97.2 C114.2,98.5 115,100 116.5,101.5 C118,103 120.1,104.7 121.7,106.2 C123.3,107.7 123.3,108 126.1,110.5 C128.8,113 134.2,117.7 138.2,121.3 C142.2,124.9 146.8,129.1 150.2,132.1 C153.6,135.1 156,137.3 158.6,139.3 C161.2,141.3 162.9,142.2 165.8,144.2 C168.7,146.1 174.3,149.9 176,151" stroke="#fff" stroke-opacity="0.18" stroke-width="8"/>
<path d="M89,132.3 C91.2,132.9 98.9,134.8 102.1,135.7 C105.3,136.6 105.1,136.8 108.1,137.5 C111.1,138.2 116.1,139 120.1,139.6 C124.1,140.2 128.1,140.5 132.1,140.8 C136.1,141.1 140.2,141.1 144.2,141.5 C148.2,141.9 152.4,142.5 156.2,143.3 C160,144.1 165.2,145.7 167,146.2" stroke="#fff" stroke-opacity="0.12" stroke-width="8" stroke-linecap="butt"/>
<path d="M87.6,175.4 C91,175.4 100.7,175.4 108.1,175.7 C115.5,175.9 126.1,176.4 132.1,176.9 C138.1,177.4 140.2,177.5 144.2,178.5 C148.2,179.5 152.2,180.8 156.2,182.7 C160.2,184.6 164.9,187.8 168.2,189.9 C171.5,192 174.7,194.3 176,195.2" stroke="#fff" stroke-opacity="0.16" stroke-width="8" stroke-linecap="butt"/>
</g>
<g filter="url(#b25)" fill="none" stroke-linecap="round" stroke-linejoin="round">
<rect x="-20" y="-20" width="214" height="253" fill="none" stroke="none"/>
<path d="M37.7,102.3 C39,101.7 43.4,99.9 45.7,98.9 C48,97.9 49.6,97 51.5,96.1 C53.4,95.1 54.4,94.8 57.2,93.2 C60.1,91.6 65.2,88.4 68.6,86.3 C72,84.2 75.1,82.1 77.8,80.6 C80.5,79 83.8,77.6 85,77" stroke="#fff" stroke-opacity="0.14" stroke-width="6"/>
<path d="M-2,129.6 C-1.7,129.3 -1.3,128.9 0,128 C1.3,127.1 3.8,125.4 5.7,124 C7.6,122.6 9.3,120.7 11.4,119.5 C13.5,118.3 15.4,118.3 18.3,117 C21.2,115.7 25.6,113 28.6,111.5 C31.7,110 34.1,108.8 36.6,108 C39.1,107.2 41.6,106.9 43.5,107 C45.4,107.1 47.2,108.4 48,108.7" stroke="#fff" stroke-opacity="0.14" stroke-width="6"/>
<path d="M-2,32.7 C-1.7,32.9 -2.2,32.7 0,33.7 C2.2,34.7 7.6,37.1 11.4,38.9 C15.2,40.7 19.1,42.7 22.9,44.6 C26.7,46.5 30.5,48.4 34.3,50.4 C38.1,52.4 41.9,54.4 45.7,56.4 C49.5,58.4 53.4,60.3 57.2,62.2 C61,64.1 64.8,66.1 68.6,68 C72.4,69.9 77.1,72.2 80,73.6 C82.9,75 85,75.8 86,76.2" stroke="#fff" stroke-opacity="0.72" stroke-width="5.4"/>
<path d="M86.3,74.3 C87.8,73 92,69.1 95.4,66.3 C98.8,63.4 103.1,60.4 106.9,57.2 C110.7,54.1 114.5,50.6 118.3,47.4 C122.1,44.1 125.9,40.9 129.7,37.7 C133.5,34.5 137.4,31.3 141.2,28.2 C145,25.1 148.8,22 152.6,18.9 C156.4,15.8 160.2,12.8 164.1,9.7 C168,6.5 174,1.6 176,0" stroke="#fff" stroke-opacity="0.87" stroke-width="5.6"/>
<linearGradient id="g63" gradientUnits="userSpaceOnUse" x1="86.3" y1="0" x2="176" y2="0"><stop offset="0.000" stop-color="#fff" stop-opacity="0.91"/><stop offset="0.101" stop-color="#fff" stop-opacity="0.91"/><stop offset="0.230" stop-color="#fff" stop-opacity="0.91"/><stop offset="0.293" stop-color="#fff" stop-opacity="0.91"/><stop offset="0.337" stop-color="#fff" stop-opacity="0.88"/><stop offset="0.395" stop-color="#fff" stop-opacity="0.82"/><stop offset="0.444" stop-color="#fff" stop-opacity="0.81"/><stop offset="0.579" stop-color="#fff" stop-opacity="0.81"/><stop offset="0.712" stop-color="#fff" stop-opacity="0.81"/><stop offset="0.806" stop-color="#fff" stop-opacity="0.85"/><stop offset="0.886" stop-color="#fff" stop-opacity="0.91"/><stop offset="1.000" stop-color="#fff" stop-opacity="0.91"/></linearGradient>
<path d="M86.3,77.8 C87.8,79.1 92,83.2 95.4,85.8 C98.8,88.4 104,91.6 106.9,93.5 C109.8,95.4 111,95.9 112.6,97.2 C114.2,98.5 115,100 116.5,101.5 C118,103 120.1,104.7 121.7,106.2 C123.3,107.7 123.3,108 126.1,110.5 C128.8,113 134.2,117.7 138.2,121.3 C142.2,124.9 146.8,129.1 150.2,132.1 C153.6,135.1 156,137.3 158.6,139.3 C161.2,141.3 162.9,142.2 165.8,144.2 C168.7,146.1 174.3,149.9 176,151" stroke="url(#g63)" stroke-width="5"/>
<linearGradient id="g64" gradientUnits="userSpaceOnUse" x1="37.7" y1="0" x2="85" y2="0"><stop offset="0.000" stop-color="#fff" stop-opacity="0.47"/><stop offset="0.169" stop-color="#fff" stop-opacity="0.72"/><stop offset="0.292" stop-color="#fff" stop-opacity="0.78"/><stop offset="0.412" stop-color="#fff" stop-opacity="0.78"/><stop offset="0.653" stop-color="#fff" stop-opacity="0.78"/><stop offset="0.848" stop-color="#fff" stop-opacity="0.78"/><stop offset="1.000" stop-color="#fff" stop-opacity="0.78"/></linearGradient>
<path d="M37.7,102.3 C39,101.7 43.4,99.9 45.7,98.9 C48,97.9 49.6,97 51.5,96.1 C53.4,95.1 54.4,94.8 57.2,93.2 C60.1,91.6 65.2,88.4 68.6,86.3 C72,84.2 75.1,82.1 77.8,80.6 C80.5,79 83.8,77.6 85,77" stroke="url(#g64)" stroke-width="4.6"/>
<linearGradient id="g65" gradientUnits="userSpaceOnUse" x1="-2" y1="0" x2="48" y2="0"><stop offset="0.000" stop-color="#fff" stop-opacity="0.75"/><stop offset="0.040" stop-color="#fff" stop-opacity="0.75"/><stop offset="0.154" stop-color="#fff" stop-opacity="0.75"/><stop offset="0.268" stop-color="#fff" stop-opacity="0.75"/><stop offset="0.406" stop-color="#fff" stop-opacity="0.75"/><stop offset="0.612" stop-color="#fff" stop-opacity="0.72"/><stop offset="0.772" stop-color="#fff" stop-opacity="0.69"/><stop offset="0.910" stop-color="#fff" stop-opacity="0.60"/><stop offset="1.000" stop-color="#fff" stop-opacity="0.45"/></linearGradient>
<path d="M-2,129.6 C-1.7,129.3 -1.3,128.9 0,128 C1.3,127.1 3.8,125.4 5.7,124 C7.6,122.6 9.3,120.7 11.4,119.5 C13.5,118.3 15.4,118.3 18.3,117 C21.2,115.7 25.6,113 28.6,111.5 C31.7,110 34.1,108.8 36.6,108 C39.1,107.2 41.6,106.9 43.5,107 C45.4,107.1 47.2,108.4 48,108.7" stroke="url(#g65)" stroke-width="4.8"/>
<linearGradient id="g66" gradientUnits="userSpaceOnUse" x1="89" y1="0" x2="167" y2="0"><stop offset="0.000" stop-color="#fff" stop-opacity="0.56"/><stop offset="0.168" stop-color="#fff" stop-opacity="0.72"/><stop offset="0.245" stop-color="#fff" stop-opacity="0.78"/><stop offset="0.399" stop-color="#fff" stop-opacity="0.72"/><stop offset="0.553" stop-color="#fff" stop-opacity="0.68"/><stop offset="0.708" stop-color="#fff" stop-opacity="0.72"/><stop offset="0.862" stop-color="#fff" stop-opacity="0.78"/><stop offset="1.000" stop-color="#fff" stop-opacity="0.93"/></linearGradient>
<path d="M89,132.3 C91.2,132.9 98.9,134.8 102.1,135.7 C105.3,136.6 105.1,136.8 108.1,137.5 C111.1,138.2 116.1,139 120.1,139.6 C124.1,140.2 128.1,140.5 132.1,140.8 C136.1,141.1 140.2,141.1 144.2,141.5 C148.2,141.9 152.4,142.5 156.2,143.3 C160,144.1 165.2,145.7 167,146.2" stroke="url(#g66)" stroke-width="4.6" stroke-linecap="butt"/>
<path d="M87.6,142.4 C90,142.4 96.6,142.4 102,142.4 C107.4,142.4 113.8,142.6 120.1,142.6 C126.4,142.6 136.7,142.6 140,142.6" stroke="#fff" stroke-opacity="0.75" stroke-width="3.2" stroke-linecap="butt"/>
<linearGradient id="g67" gradientUnits="userSpaceOnUse" x1="87.6" y1="0" x2="176" y2="0"><stop offset="0.000" stop-color="#fff" stop-opacity="0.80"/><stop offset="0.232" stop-color="#fff" stop-opacity="0.80"/><stop offset="0.503" stop-color="#fff" stop-opacity="0.84"/><stop offset="0.640" stop-color="#fff" stop-opacity="0.90"/><stop offset="0.776" stop-color="#fff" stop-opacity="1.00"/><stop offset="0.912" stop-color="#fff" stop-opacity="1.00"/><stop offset="1.000" stop-color="#fff" stop-opacity="1.00"/></linearGradient>
<path d="M87.6,175.4 C91,175.4 100.7,175.4 108.1,175.7 C115.5,175.9 126.1,176.4 132.1,176.9 C138.1,177.4 140.2,177.5 144.2,178.5 C148.2,179.5 152.2,180.8 156.2,182.7 C160.2,184.6 164.9,187.8 168.2,189.9 C171.5,192 174.7,194.3 176,195.2" stroke="url(#g67)" stroke-width="4.4" stroke-linecap="butt"/>
<ellipse cx="168" cy="146.5" rx="6" ry="2.5" fill="#fff" fill-opacity="0.50" stroke="none" transform="rotate(33 168 146.5)"/>
</g>
<g filter="url(#b15)" fill="none" stroke-linecap="round" stroke-linejoin="round">
<rect x="-20" y="-20" width="214" height="253" fill="none" stroke="none"/>
<linearGradient id="g68" gradientUnits="userSpaceOnUse" x1="-2" y1="0" x2="48.5" y2="0"><stop offset="0.000" stop-color="#fff" stop-opacity="0.69"/><stop offset="0.040" stop-color="#fff" stop-opacity="0.68"/><stop offset="0.265" stop-color="#fff" stop-opacity="0.67"/><stop offset="0.493" stop-color="#fff" stop-opacity="0.67"/><stop offset="0.719" stop-color="#fff" stop-opacity="0.66"/><stop offset="0.901" stop-color="#fff" stop-opacity="0.66"/><stop offset="1.000" stop-color="#fff" stop-opacity="0.65"/></linearGradient>
<path d="M-2,54.5 C-1.7,54.9 -2.2,54.4 0,56.6 C2.2,58.8 7.6,64.2 11.4,67.5 C15.2,70.8 19.1,73.6 22.9,76.6 C26.7,79.5 30.9,82.7 34.3,85.2 C37.7,87.7 41.1,89.7 43.5,91.5 C45.9,93.3 47.7,95.2 48.5,96" stroke="url(#g68)" stroke-width="2.6"/>
<linearGradient id="g69" gradientUnits="userSpaceOnUse" x1="67.5" y1="0" x2="87" y2="0"><stop offset="0.000" stop-color="#fff" stop-opacity="0.73"/><stop offset="0.349" stop-color="#fff" stop-opacity="0.83"/><stop offset="0.641" stop-color="#fff" stop-opacity="0.93"/><stop offset="1.000" stop-color="#fff" stop-opacity="1.00"/></linearGradient>
<path d="M67.5,125.9 C68.6,125.3 72.2,123.4 74.3,122.4 C76.4,121.5 77.9,120.7 80,120.2 C82.1,119.7 85.8,119.6 87,119.5" stroke="url(#g69)" stroke-width="2.4"/>
<linearGradient id="g70" gradientUnits="userSpaceOnUse" x1="-2" y1="0" x2="67.5" y2="0"><stop offset="0.000" stop-color="#fff" stop-opacity="0.79"/><stop offset="0.029" stop-color="#fff" stop-opacity="0.78"/><stop offset="0.193" stop-color="#fff" stop-opacity="0.78"/><stop offset="0.358" stop-color="#fff" stop-opacity="0.77"/><stop offset="0.522" stop-color="#fff" stop-opacity="0.77"/><stop offset="0.655" stop-color="#fff" stop-opacity="0.76"/><stop offset="0.770" stop-color="#fff" stop-opacity="0.76"/><stop offset="0.885" stop-color="#fff" stop-opacity="0.75"/><stop offset="1.000" stop-color="#fff" stop-opacity="0.75"/></linearGradient>
<path d="M-2,166 C-1.7,165.8 -2.2,166.2 0,164.8 C2.2,163.5 7.6,160.2 11.4,157.9 C15.2,155.6 19.1,153.2 22.9,151 C26.7,148.8 30.9,146.4 34.3,144.7 C37.7,142.9 40.6,141.7 43.5,140.5 C46.4,139.3 48.8,138.5 51.5,137.3 C54.2,136.1 56.8,134.9 59.5,133.3 C62.2,131.7 66.2,128.6 67.5,127.6" stroke="url(#g70)" stroke-width="2.2"/>
<linearGradient id="g71" gradientUnits="userSpaceOnUse" x1="-2" y1="0" x2="68.6" y2="0"><stop offset="0.000" stop-color="#fff" stop-opacity="0.79"/><stop offset="0.028" stop-color="#fff" stop-opacity="0.79"/><stop offset="0.190" stop-color="#fff" stop-opacity="0.79"/><stop offset="0.353" stop-color="#fff" stop-opacity="0.75"/><stop offset="0.514" stop-color="#fff" stop-opacity="0.75"/><stop offset="0.676" stop-color="#fff" stop-opacity="0.79"/><stop offset="0.741" stop-color="#fff" stop-opacity="0.65"/><stop offset="0.839" stop-color="#fff" stop-opacity="0.55"/><stop offset="1.000" stop-color="#fff" stop-opacity="0.43"/></linearGradient>
<path d="M-2,174.1 C-1.7,173.9 -2.2,174.3 0,172.8 C2.2,171.3 7.6,167.8 11.4,165.3 C15.2,162.8 19.1,160.3 22.9,157.9 C26.7,155.5 30.5,153.2 34.3,151 C38.1,148.8 43,145.9 45.7,144.7 C48.4,143.5 48.4,144.2 50.3,143.6 C52.2,143 54.2,142.5 57.2,141.3 C60.2,140.2 66.7,137.5 68.6,136.7" stroke="url(#g71)" stroke-width="2.2"/>
<linearGradient id="g72" gradientUnits="userSpaceOnUse" x1="87.6" y1="0" x2="115" y2="0"><stop offset="0.000" stop-color="#fff" stop-opacity="0.86"/><stop offset="0.307" stop-color="#fff" stop-opacity="0.82"/><stop offset="0.748" stop-color="#fff" stop-opacity="0.79"/><stop offset="1.000" stop-color="#fff" stop-opacity="0.75"/></linearGradient>
<path d="M87.6,119.5 C89,118.6 92.6,116.2 96,114.1 C99.4,112 104.9,108.9 108.1,106.8 C111.3,104.7 113.8,102.4 115,101.5" stroke="url(#g72)" stroke-width="2.6"/>
<ellipse cx="86" cy="76.2" rx="3.6" ry="2.6" fill="#fff" fill-opacity="1.00" stroke="none"/>
</g>
<g filter="url(#b1)" fill="none" stroke-linecap="round" stroke-linejoin="round">
<rect x="-20" y="-20" width="214" height="253" fill="none" stroke="none"/>
<linearGradient id="g73" gradientUnits="userSpaceOnUse" x1="-2" y1="0" x2="86" y2="0"><stop offset="0.000" stop-color="#fff" stop-opacity="0.57"/><stop offset="0.023" stop-color="#fff" stop-opacity="0.59"/><stop offset="0.152" stop-color="#fff" stop-opacity="0.61"/><stop offset="0.283" stop-color="#fff" stop-opacity="0.62"/><stop offset="0.412" stop-color="#fff" stop-opacity="0.64"/><stop offset="0.542" stop-color="#fff" stop-opacity="0.66"/><stop offset="0.673" stop-color="#fff" stop-opacity="0.68"/><stop offset="0.802" stop-color="#fff" stop-opacity="0.70"/><stop offset="0.932" stop-color="#fff" stop-opacity="0.72"/><stop offset="1.000" stop-color="#fff" stop-opacity="0.74"/></linearGradient>
<path d="M-2,32.7 C-1.7,32.9 -2.2,32.7 0,33.7 C2.2,34.7 7.6,37.1 11.4,38.9 C15.2,40.7 19.1,42.7 22.9,44.6 C26.7,46.5 30.5,48.4 34.3,50.4 C38.1,52.4 41.9,54.4 45.7,56.4 C49.5,58.4 53.4,60.3 57.2,62.2 C61,64.1 64.8,66.1 68.6,68 C72.4,69.9 77.1,72.2 80,73.6 C82.9,75 85,75.8 86,76.2" stroke="url(#g73)" stroke-width="2.6"/>
<path d="M86.3,74.3 C87.8,73 92,69.1 95.4,66.3 C98.8,63.4 103.1,60.4 106.9,57.2 C110.7,54.1 114.5,50.6 118.3,47.4 C122.1,44.1 125.9,40.9 129.7,37.7 C133.5,34.5 137.4,31.3 141.2,28.2 C145,25.1 148.8,22 152.6,18.9 C156.4,15.8 160.2,12.8 164.1,9.7 C168,6.5 174,1.6 176,0" stroke="#fff" stroke-opacity="1.00" stroke-width="3"/>
<linearGradient id="g74" gradientUnits="userSpaceOnUse" x1="86.3" y1="0" x2="176" y2="0"><stop offset="0.000" stop-color="#fff" stop-opacity="1.00"/><stop offset="0.101" stop-color="#fff" stop-opacity="1.00"/><stop offset="0.230" stop-color="#fff" stop-opacity="1.00"/><stop offset="0.293" stop-color="#fff" stop-opacity="1.00"/><stop offset="0.337" stop-color="#fff" stop-opacity="0.58"/><stop offset="0.395" stop-color="#fff" stop-opacity="0.39"/><stop offset="0.444" stop-color="#fff" stop-opacity="0.36"/><stop offset="0.579" stop-color="#fff" stop-opacity="0.39"/><stop offset="0.712" stop-color="#fff" stop-opacity="0.46"/><stop offset="0.806" stop-color="#fff" stop-opacity="0.71"/><stop offset="0.886" stop-color="#fff" stop-opacity="1.00"/><stop offset="1.000" stop-color="#fff" stop-opacity="1.00"/></linearGradient>
<path d="M86.3,77.8 C87.8,79.1 92,83.2 95.4,85.8 C98.8,88.4 104,91.6 106.9,93.5 C109.8,95.4 111,95.9 112.6,97.2 C114.2,98.5 115,100 116.5,101.5 C118,103 120.1,104.7 121.7,106.2 C123.3,107.7 123.3,108 126.1,110.5 C128.8,113 134.2,117.7 138.2,121.3 C142.2,124.9 146.8,129.1 150.2,132.1 C153.6,135.1 156,137.3 158.6,139.3 C161.2,141.3 162.9,142.2 165.8,144.2 C168.7,146.1 174.3,149.9 176,151" stroke="url(#g74)" stroke-width="2.8"/>
<linearGradient id="g75" gradientUnits="userSpaceOnUse" x1="37.7" y1="0" x2="85" y2="0"><stop offset="0.000" stop-color="#fff" stop-opacity="0.14"/><stop offset="0.169" stop-color="#fff" stop-opacity="0.64"/><stop offset="0.292" stop-color="#fff" stop-opacity="0.78"/><stop offset="0.412" stop-color="#fff" stop-opacity="0.64"/><stop offset="0.653" stop-color="#fff" stop-opacity="0.51"/><stop offset="0.848" stop-color="#fff" stop-opacity="0.57"/><stop offset="1.000" stop-color="#fff" stop-opacity="0.85"/></linearGradient>
<path d="M37.7,102.3 C39,101.7 43.4,99.9 45.7,98.9 C48,97.9 49.6,97 51.5,96.1 C53.4,95.1 54.4,94.8 57.2,93.2 C60.1,91.6 65.2,88.4 68.6,86.3 C72,84.2 75.1,82.1 77.8,80.6 C80.5,79 83.8,77.6 85,77" stroke="url(#g75)" stroke-width="2.4"/>
<linearGradient id="g76" gradientUnits="userSpaceOnUse" x1="-2" y1="0" x2="38.9" y2="0"><stop offset="0.000" stop-color="#fff" stop-opacity="0.53"/><stop offset="0.049" stop-color="#fff" stop-opacity="0.54"/><stop offset="0.328" stop-color="#fff" stop-opacity="0.56"/><stop offset="0.609" stop-color="#fff" stop-opacity="0.57"/><stop offset="0.888" stop-color="#fff" stop-opacity="0.59"/><stop offset="1.000" stop-color="#fff" stop-opacity="0.60"/></linearGradient>
<path d="M-2,80.8 C-1.7,81 -2.2,80.7 0,81.8 C2.2,82.9 7.6,85.6 11.4,87.5 C15.2,89.4 19.1,91.3 22.9,93.2 C26.7,95.1 31.6,97.5 34.3,98.9 C37,100.3 38.1,101.3 38.9,101.8" stroke="url(#g76)" stroke-width="1.8"/>
<linearGradient id="g77" gradientUnits="userSpaceOnUse" x1="38.9" y1="0" x2="82.3" y2="0"><stop offset="0.000" stop-color="#fff" stop-opacity="0.66"/><stop offset="0.157" stop-color="#fff" stop-opacity="0.61"/><stop offset="0.422" stop-color="#fff" stop-opacity="0.57"/><stop offset="0.684" stop-color="#fff" stop-opacity="0.52"/><stop offset="1.000" stop-color="#fff" stop-opacity="0.48"/></linearGradient>
<path d="M38.9,101.8 C40,102.2 42.7,103.5 45.7,104 C48.8,104.5 53.4,104 57.2,105 C61,106 64.4,108.4 68.6,110 C72.8,111.6 80,113.8 82.3,114.6" stroke="url(#g77)" stroke-width="1.4"/>
<linearGradient id="g78" gradientUnits="userSpaceOnUse" x1="-2" y1="0" x2="48" y2="0"><stop offset="0.000" stop-color="#fff" stop-opacity="0.64"/><stop offset="0.040" stop-color="#fff" stop-opacity="0.60"/><stop offset="0.154" stop-color="#fff" stop-opacity="0.51"/><stop offset="0.268" stop-color="#fff" stop-opacity="0.71"/><stop offset="0.406" stop-color="#fff" stop-opacity="0.85"/><stop offset="0.612" stop-color="#fff" stop-opacity="0.51"/><stop offset="0.772" stop-color="#fff" stop-opacity="0.43"/><stop offset="0.910" stop-color="#fff" stop-opacity="0.28"/><stop offset="1.000" stop-color="#fff" stop-opacity="0.14"/></linearGradient>
<path d="M-2,129.6 C-1.7,129.3 -1.3,128.9 0,128 C1.3,127.1 3.8,125.4 5.7,124 C7.6,122.6 9.3,120.7 11.4,119.5 C13.5,118.3 15.4,118.3 18.3,117 C21.2,115.7 25.6,113 28.6,111.5 C31.7,110 34.1,108.8 36.6,108 C39.1,107.2 41.6,106.9 43.5,107 C45.4,107.1 47.2,108.4 48,108.7" stroke="url(#g78)" stroke-width="2.4"/>
<path d="M48,108.7 C49.5,110 54.5,114.2 57.2,116.7 C59.9,119.2 62.3,122.1 64,123.6 C65.7,125.1 66.9,125.5 67.5,125.9" stroke="#fff" stroke-opacity="0.58" stroke-width="1.6"/>
<path d="M-2,102.5 C-1.3,103.2 0.1,104.2 2.3,106.4 C4.5,108.6 9.9,114.1 11.4,115.6" stroke="#fff" stroke-opacity="0.58" stroke-width="1.6"/>
<path d="M24,123.6 C25.7,125.1 31,129.9 34.3,132.7 C37.5,135.5 40.8,138.4 43.5,140.2 C46.2,142 48,141.8 50.3,143.6 C52.6,145.4 54.5,148.3 57.2,151 C59.9,153.7 63.4,156.9 66.3,159.6 C69.1,162.3 71.6,164.8 74.3,167 C77,169.2 80.2,171.5 82.3,172.8 C84.4,174.1 86.2,174.6 87,175" stroke="#fff" stroke-opacity="0.50" stroke-width="1.7"/>
<path d="M3,215 C4.4,213.5 8.1,208.9 11.4,205.9 C14.7,202.9 19.1,200 22.9,196.8 C26.7,193.6 30.5,189.9 34.3,186.5 C38.1,183.1 41.9,179.5 45.7,176.2 C49.5,172.9 53.8,169.3 57.2,166.5 C60.6,163.7 63.4,161.8 66.3,159.6 C69.1,157.4 71.6,155.5 74.3,153.3 C77,151.1 80.2,148.3 82.3,146.5 C84.4,144.7 86.2,143.2 87,142.5" stroke="#fff" stroke-opacity="0.53" stroke-width="1.8"/>
<path d="M35,215 C36.8,213.9 42,210.9 45.7,208.2 C49.4,205.4 53.4,201.8 57.2,198.5 C61,195.2 64.8,191.5 68.6,188.2 C72.4,184.9 76.9,180.8 80,178.5 C83.1,176.2 85.8,175.2 87,174.5" stroke="#fff" stroke-opacity="0.53" stroke-width="1.8"/>
<path d="M117.2,94.9 C119.3,93.2 125.7,87.8 129.7,84.6 C133.7,81.4 137.4,78.5 141.2,75.5 C145,72.5 148.8,69.3 152.6,66.3 C156.4,63.2 160.2,60.2 164.1,57.2 C168,54.2 174,49.5 176,48" stroke="#fff" stroke-opacity="0.52" stroke-width="1.7"/>
<path d="M119.5,98.5 C121.2,97.1 126.1,93.1 129.7,90.3 C133.3,87.5 137.4,84.6 141.2,81.8 C145,79 148.8,76.1 152.6,73.2 C156.4,70.3 160.2,67.5 164.1,64.6 C168,61.7 174,57.4 176,56" stroke="#fff" stroke-opacity="0.63" stroke-width="1.7"/>
<linearGradient id="g79" gradientUnits="userSpaceOnUse" x1="88" y1="0" x2="162.2" y2="0"><stop offset="0.000" stop-color="#fff" stop-opacity="0.53"/><stop offset="0.108" stop-color="#fff" stop-opacity="0.44"/><stop offset="0.216" stop-color="#fff" stop-opacity="0.26"/><stop offset="0.352" stop-color="#fff" stop-opacity="0.53"/><stop offset="0.513" stop-color="#fff" stop-opacity="0.74"/><stop offset="0.677" stop-color="#fff" stop-opacity="0.78"/><stop offset="0.838" stop-color="#fff" stop-opacity="0.78"/><stop offset="1.000" stop-color="#fff" stop-opacity="0.78"/></linearGradient>
<path d="M88,121 C89.3,122 93.3,125 96,127 C98.7,129 101,129.5 104,133 C107,136.5 110.4,143.7 114.1,147.8 C117.8,151.9 122.1,154.4 126.1,157.4 C130.1,160.4 134.2,163.2 138.2,165.8 C142.2,168.4 146.2,170.8 150.2,173 C154.2,175.2 160.2,178.1 162.2,179.1" stroke="url(#g79)" stroke-width="1.8"/>
<path d="M123.7,149 C125.7,150.6 131.8,155.6 135.8,158.6 C139.8,161.6 145.8,165.6 147.8,167" stroke="#fff" stroke-opacity="0.84" stroke-width="1.3"/>
<ellipse cx="43.5" cy="140.4" rx="1.8" ry="1.2" fill="#fff" fill-opacity="0.30" stroke="none"/>
<ellipse cx="66.3" cy="159.6" rx="1.8" ry="1.2" fill="#fff" fill-opacity="0.25" stroke="none"/>
<ellipse cx="88" cy="119.5" rx="1.5" ry="1.5" fill="#fff" fill-opacity="0.40" stroke="none"/>
<ellipse cx="88" cy="142.5" rx="1.3" ry="1.5" fill="#fff" fill-opacity="0.35" stroke="none"/>
<ellipse cx="88" cy="175" rx="1.3" ry="1.5" fill="#fff" fill-opacity="0.35" stroke="none"/>
</g>
</g></svg>
<rect x="726.6" y="760.1" width="18" height="213.2" fill="url(#cb)" stroke="#262626" stroke-opacity="0.55" stroke-width="0.5"/>
<path d="M744.6,973 h-1.8" stroke="#262626" stroke-width="0.6"/>
<text x="749.6" y="978.3" font-size="14.1">20</text>
<path d="M744.6,930.4 h-1.8" stroke="#262626" stroke-width="0.6"/>
<text x="749.6" y="935.7" font-size="14.1">30</text>
<path d="M744.6,887.8 h-1.8" stroke="#262626" stroke-width="0.6"/>
<text x="749.6" y="893.1" font-size="14.1">40</text>
<path d="M744.6,845.2 h-1.8" stroke="#262626" stroke-width="0.6"/>
<text x="749.6" y="850.5" font-size="14.1">50</text>
<path d="M744.6,802.6 h-1.8" stroke="#262626" stroke-width="0.6"/>
<text x="749.6" y="807.9" font-size="14.1">60</text>
<path d="M744.6,760 h-1.8" stroke="#262626" stroke-width="0.6"/>
<text x="749.6" y="765.3" font-size="14.1">70</text>
<text x="781.7" y="871.2" font-size="15.8" text-anchor="middle" transform="rotate(-90 781.7 871.2)">Reflection (%)</text>
<text x="532.4" y="978.3" font-size="14.1" text-anchor="end">500</text>
<text x="532.4" y="907.3" font-size="14.1" text-anchor="end">550</text>
<text x="532.4" y="836.3" font-size="14.1" text-anchor="end">600</text>
<text x="532.4" y="765.3" font-size="14.1" text-anchor="end">650</text>
<text x="537" y="989.7" font-size="14.1" text-anchor="middle">-15</text>
<text x="566" y="989.7" font-size="14.1" text-anchor="middle">-10</text>
<text x="595" y="989.7" font-size="14.1" text-anchor="middle">-5</text>
<text x="624" y="989.7" font-size="14.1" text-anchor="middle">0</text>
<text x="653" y="989.7" font-size="14.1" text-anchor="middle">5</text>
<text x="682" y="989.7" font-size="14.1" text-anchor="middle">10</text>
<text x="711" y="989.7" font-size="14.1" text-anchor="middle">15</text>
<text x="626.8" y="1017.7" font-size="15.8" text-anchor="middle">Incident angle, <tspan class="it">&#952;</tspan> (&#176;)</text>
<text x="494.7" y="871.3" font-size="15.8" text-anchor="middle" transform="rotate(-90 494.7 871.3)">Wavelength, <tspan class="it">&#955;</tspan> (nm)</text>
<text x="634.8" y="727.3" font-size="15.9" text-anchor="middle">Experiment Result</text>
<text x="627.5" y="751.3" font-size="14.1" text-anchor="middle">X - &#915; - M</text>
<text x="461.3" y="701.5" font-size="16" fill="#000">(f)</text>
<g fill="#5bc5f7">
<ellipse cx="375.7" cy="138.5" rx="5.8" ry="5"/>
<ellipse cx="375.7" cy="168.7" rx="5.8" ry="5"/>
<ellipse cx="375.7" cy="199.9" rx="5.8" ry="5"/>
<ellipse cx="405.4" cy="138.5" rx="5.8" ry="5"/>
<ellipse cx="405.4" cy="168.7" rx="5.8" ry="5"/>
<ellipse cx="405.4" cy="199.9" rx="5.8" ry="5"/>
<ellipse cx="435.5" cy="138.5" rx="5.8" ry="5"/>
<ellipse cx="435.5" cy="168.7" rx="5.8" ry="5"/>
<ellipse cx="435.5" cy="199.9" rx="5.8" ry="5"/>
</g>
<path d="M362,152.5 V210.5 H417" fill="none" stroke="#000" stroke-width="1"/>
<path d="M362,149.5 l-2.3,4.8 h4.6z" fill="#000"/>
<path d="M420,210.5 l-4.8,-2.3 v4.6z" fill="#000"/>
<text x="347.4" y="156.5" font-size="15.5" text-anchor="middle" fill="#000" style="fill:#000">y</text>
<text x="422.8" y="218.2" font-size="15.5" text-anchor="middle" fill="#000" style="fill:#000">x</text>
<path d="M405.4,168.4 H436 V140.6z" fill="none" stroke="#7030a0" stroke-width="1.35" stroke-linejoin="miter"/>
<text x="447.6" y="145" font-size="13.5" text-anchor="middle" class="pu" style="fill:#7030a0">M</text>
<text x="396.2" y="180.6" font-size="13.5" text-anchor="middle" class="pu" style="fill:#7030a0">&#915;</text>
<text x="445.3" y="181" font-size="13.5" text-anchor="middle" class="pu" style="fill:#7030a0">X</text>
<g fill="#f9797f">
<ellipse cx="368.1" cy="488.6" rx="9" ry="2.9"/>
<ellipse cx="368.1" cy="510.5" rx="9" ry="2.9"/>
<ellipse cx="368.1" cy="532.8" rx="9" ry="2.9"/>
<ellipse cx="409.7" cy="488.6" rx="9" ry="2.9"/>
<ellipse cx="409.7" cy="510.5" rx="9" ry="2.9"/>
<ellipse cx="409.7" cy="532.8" rx="9" ry="2.9"/>
<ellipse cx="451.2" cy="488.6" rx="9" ry="2.9"/>
<ellipse cx="451.2" cy="510.5" rx="9" ry="2.9"/>
<ellipse cx="451.2" cy="532.8" rx="9" ry="2.9"/>
</g>
<path d="M348.1,492.5 V549.6 H402.3" fill="none" stroke="#000" stroke-width="1"/>
<path d="M348.1,489.5 l-2.3,4.8 h4.6z" fill="#000"/>
<path d="M405.3,549.6 l-4.8,-2.3 v4.6z" fill="#000"/>
<text x="333.6" y="497" font-size="15.5" text-anchor="middle" fill="#000" style="fill:#000">y</text>
<text x="408.7" y="557.4" font-size="15.5" text-anchor="middle" fill="#000" style="fill:#000">x</text>
<path d="M411,509.9 H454.3 V488.6z" fill="none" stroke="#7030a0" stroke-width="1.35" stroke-linejoin="miter"/>
<text x="466.8" y="494.3" font-size="13.5" text-anchor="middle" class="pu" style="fill:#7030a0">M</text>
<text x="393.5" y="522.8" font-size="13.5" text-anchor="middle" class="pu" style="fill:#7030a0">&#915;</text>
<text x="464.6" y="523.8" font-size="13.5" text-anchor="middle" class="pu" style="fill:#7030a0">X</text>
<g fill="#0000ff">
<ellipse cx="408.1" cy="838.6" rx="9" ry="2.5"/>
<ellipse cx="384.3" cy="853.5" rx="9" ry="2.5"/>
<ellipse cx="432.3" cy="853.5" rx="9" ry="2.5"/>
<ellipse cx="360.5" cy="871" rx="9" ry="2.5"/>
<ellipse cx="408.1" cy="871" rx="9" ry="2.5"/>
<ellipse cx="455.8" cy="871" rx="9" ry="2.5"/>
<ellipse cx="384.3" cy="886.2" rx="9" ry="2.5"/>
<ellipse cx="432.9" cy="886.2" rx="9" ry="2.5"/>
<ellipse cx="408.1" cy="900.9" rx="9" ry="2.5"/>
</g>
<path d="M343.3,857.8 V915.4 H397.5" fill="none" stroke="#000" stroke-width="1"/>
<path d="M343.3,854.8 l-2.3,4.8 h4.6z" fill="#000"/>
<path d="M400.5,915.4 l-4.8,-2.3 v4.6z" fill="#000"/>
<text x="331" y="861" font-size="15.5" text-anchor="middle" fill="#000" style="fill:#000">y</text>
<text x="404.5" y="923.6" font-size="15.5" text-anchor="middle" fill="#000" style="fill:#000">x</text>
<path d="M409.1,871 H457.3 L432.9,854.4z" fill="none" stroke="#7d1f7d" stroke-width="1.35" stroke-linejoin="miter"/>
<text x="397.7" y="819.2" font-size="13.5" text-anchor="middle" class="pu" style="fill:#7030a0">M</text>
<text x="397.7" y="884" font-size="13.5" text-anchor="middle" class="pu" style="fill:#7030a0">&#915;</text>
<text x="465.9" y="882.5" font-size="13.5" text-anchor="middle" class="pu" style="fill:#7030a0">X</text>
</svg></body></html>
